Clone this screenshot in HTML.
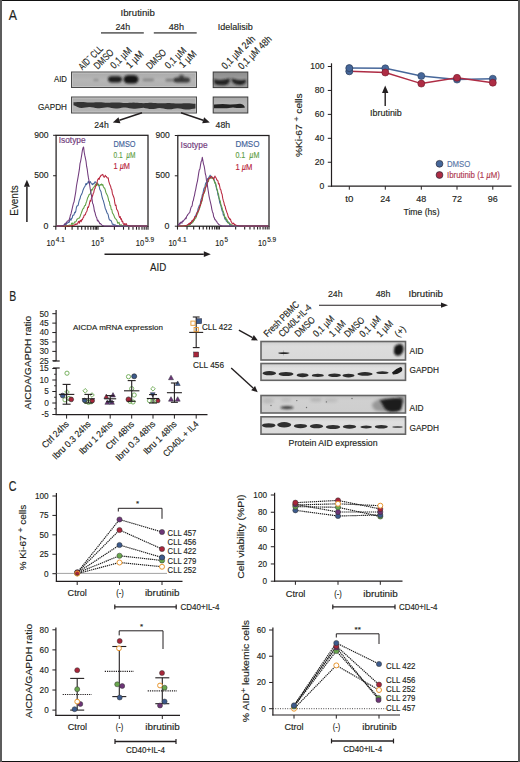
<!DOCTYPE html>
<html><head><meta charset="utf-8"><title>Figure</title>
<style>
html,body{margin:0;padding:0;background:#fff;}
body{width:520px;height:762px;overflow:hidden;}
svg{display:block;}
text{font-family:"Liberation Sans", sans-serif;}
</style></head>
<body>
<svg width="520" height="762" viewBox="0 0 520 762">
<defs>
<linearGradient id="gA" x1="0" y1="0" x2="0" y2="1"><stop offset="0" stop-color="#a9a9a9"/><stop offset="0.5" stop-color="#b6b6b6"/><stop offset="1" stop-color="#b0b0b0"/></linearGradient>
<linearGradient id="gI" x1="0" y1="0" x2="0" y2="1"><stop offset="0" stop-color="#8e8e8e"/><stop offset="0.5" stop-color="#9c9c9c"/><stop offset="1" stop-color="#979797"/></linearGradient>
<linearGradient id="gB1" x1="0" y1="0" x2="0" y2="1"><stop offset="0" stop-color="#cfcfcf"/><stop offset="0.25" stop-color="#dcdcdc"/><stop offset="1" stop-color="#d9d9d9"/></linearGradient>
<linearGradient id="gB2" x1="0" y1="0" x2="0" y2="1"><stop offset="0" stop-color="#d0d0d0"/><stop offset="0.3" stop-color="#e0e0e0"/><stop offset="1" stop-color="#dadada"/></linearGradient>
<linearGradient id="gB3" x1="0" y1="0" x2="0" y2="1"><stop offset="0" stop-color="#c4c4c4"/><stop offset="0.3" stop-color="#d0d0d0"/><stop offset="1" stop-color="#cecece"/></linearGradient>
<filter id="b5" x="-50%" y="-100%" width="200%" height="300%"><feGaussianBlur stdDeviation="0.5"/></filter>
<filter id="b6" x="-50%" y="-100%" width="200%" height="300%"><feGaussianBlur stdDeviation="0.6"/></filter>
<filter id="b8" x="-50%" y="-100%" width="200%" height="300%"><feGaussianBlur stdDeviation="0.8"/></filter>
<filter id="b10" x="-50%" y="-100%" width="200%" height="300%"><feGaussianBlur stdDeviation="1.0"/></filter>
<filter id="b12" x="-50%" y="-100%" width="200%" height="300%"><feGaussianBlur stdDeviation="1.2"/></filter>
<filter id="b15" x="-50%" y="-100%" width="200%" height="300%"><feGaussianBlur stdDeviation="1.5"/></filter>
<filter id="b20" x="-50%" y="-100%" width="200%" height="300%"><feGaussianBlur stdDeviation="2.0"/></filter>
</defs>
<rect x="0" y="0" width="520" height="762" fill="#ffffff"/>
<text x="8.80" y="19.70" font-size="14" fill="#231f20" textLength="8.20" lengthAdjust="spacingAndGlyphs" stroke="#231f20" stroke-width="0.15" >A</text>
<text x="120.60" y="15.70" font-size="9" fill="#231f20" textLength="34.20" lengthAdjust="spacingAndGlyphs" stroke="#231f20" stroke-width="0.15" >Ibrutinib</text>
<text x="115.40" y="30.10" font-size="9.4" fill="#231f20" textLength="14.80" lengthAdjust="spacingAndGlyphs" stroke="#231f20" stroke-width="0.15" >24h</text>
<text x="168.80" y="30.10" font-size="9.4" fill="#231f20" textLength="15.20" lengthAdjust="spacingAndGlyphs" stroke="#231f20" stroke-width="0.15" >48h</text>
<line x1="101.00" y1="32.90" x2="143.80" y2="32.90" stroke="#6e6e6e" stroke-width="1.6" />
<line x1="153.80" y1="32.90" x2="196.70" y2="32.90" stroke="#6e6e6e" stroke-width="1.6" />
<text x="217.80" y="29.90" font-size="9" fill="#231f20" textLength="35.00" lengthAdjust="spacingAndGlyphs" stroke="#231f20" stroke-width="0.15" >Idelalisib</text>
<text x="82.60" y="70.40" font-size="10" fill="#231f20" textLength="29.50" lengthAdjust="spacingAndGlyphs" transform="rotate(-45 82.60 70.40)" stroke="#231f20" stroke-width="0.15" >AID<tspan font-size="7" dy="-4">−</tspan><tspan dy="4"> CLL</tspan></text>
<text x="97.80" y="69.70" font-size="10" fill="#231f20" textLength="23.50" lengthAdjust="spacingAndGlyphs" transform="rotate(-45 97.80 69.70)" stroke="#231f20" stroke-width="0.15" >DMSO</text>
<text x="114.30" y="69.20" font-size="10" fill="#231f20" textLength="25.50" lengthAdjust="spacingAndGlyphs" transform="rotate(-45 114.30 69.20)" stroke="#231f20" stroke-width="0.15" >0,1 µM</text>
<text x="130.10" y="69.00" font-size="10" fill="#231f20" textLength="20.00" lengthAdjust="spacingAndGlyphs" transform="rotate(-45 130.10 69.00)" stroke="#231f20" stroke-width="0.15" >1 µM</text>
<text x="150.30" y="69.70" font-size="10" fill="#231f20" textLength="23.50" lengthAdjust="spacingAndGlyphs" transform="rotate(-45 150.30 69.70)" stroke="#231f20" stroke-width="0.15" >DMSO</text>
<text x="168.80" y="69.20" font-size="10" fill="#231f20" textLength="25.50" lengthAdjust="spacingAndGlyphs" transform="rotate(-45 168.80 69.20)" stroke="#231f20" stroke-width="0.15" >0,1 µM</text>
<text x="183.10" y="68.60" font-size="10" fill="#231f20" textLength="20.00" lengthAdjust="spacingAndGlyphs" transform="rotate(-45 183.10 68.60)" stroke="#231f20" stroke-width="0.15" >1 µM</text>
<text x="225.50" y="69.80" font-size="10" fill="#231f20" textLength="42.80" lengthAdjust="spacingAndGlyphs" transform="rotate(-45 225.50 69.80)" stroke="#231f20" stroke-width="0.15" >0,1 µM 24h</text>
<text x="242.10" y="70.00" font-size="10" fill="#231f20" textLength="42.80" lengthAdjust="spacingAndGlyphs" transform="rotate(-45 242.10 70.00)" stroke="#231f20" stroke-width="0.15" >0,1 µM 48h</text>
<text x="54.00" y="82.20" font-size="9.0" fill="#231f20" textLength="13.00" lengthAdjust="spacingAndGlyphs" stroke="#231f20" stroke-width="0.15" >AID</text>
<text x="38.00" y="109.70" font-size="9.1" fill="#231f20" textLength="29.00" lengthAdjust="spacingAndGlyphs" stroke="#231f20" stroke-width="0.15" >GAPDH</text>
<rect x="71.5" y="72" width="125" height="15.5" fill="url(#gA)" stroke="#4a4a4a" stroke-width="1"/>
<rect x="72.6" y="73.1" width="122.8" height="13.3" fill="none" stroke="#c6c6c6" stroke-width="0.8"/>
<rect x="108" y="76.2" width="14" height="6.200000000000003" rx="3.72" ry="3.10" fill="#151515" opacity="0.95" filter="url(#b8)"/>
<rect x="123.5" y="75.3" width="15.0" height="8.100000000000009" rx="4.86" ry="4.05" fill="#151515" opacity="1" filter="url(#b8)"/>
<ellipse cx="96" cy="80" rx="3" ry="1" fill="#1e1e1e" opacity="0.3" filter="url(#b10)"/>
<rect x="142.5" y="78.6" width="11.5" height="2.6000000000000085" rx="1.56" ry="1.30" fill="#333" opacity="0.35" filter="url(#b10)"/>
<rect x="165.5" y="78.8" width="11.0" height="2.799999999999997" rx="1.68" ry="1.40" fill="#333" opacity="0.45" filter="url(#b10)"/>
<rect x="174" y="77.4" width="16" height="5.0" rx="3.00" ry="2.50" fill="#1a1a1a" opacity="0.8" filter="url(#b10)"/>
<ellipse cx="181.5" cy="77" rx="2.5" ry="2.5" fill="#1e1e1e" opacity="0.6" filter="url(#b10)"/>
<rect x="71.5" y="97" width="125" height="16" fill="url(#gA)" stroke="#4a4a4a" stroke-width="1"/>
<rect x="72.6" y="98.1" width="122.8" height="13.8" fill="none" stroke="#c6c6c6" stroke-width="0.8"/>
<path d="M73.5,102.30 L75.5,102.21 L77.5,102.09 L79.5,102.00 L81.5,102.00 L83.5,102.10 L85.5,102.26 L87.5,102.42 L89.5,102.53 L91.5,102.49 L93.5,102.39 L95.5,102.28 L97.5,102.20 L99.5,102.23 L101.5,102.35 L103.5,102.51 L105.5,102.66 L107.5,102.74 L109.5,102.68 L111.5,102.57 L113.5,102.46 L115.5,102.41 L117.5,102.46 L119.5,102.60 L121.5,102.76 L123.5,102.90 L125.5,102.96 L127.5,102.90 L129.5,102.79 L131.5,102.68 L133.5,102.62 L135.5,102.67 L137.5,102.81 L139.5,102.98 L141.5,103.11 L143.5,103.16 L145.5,103.08 L147.5,102.97 L149.5,102.87 L151.5,102.84 L153.5,102.91 L155.5,103.07 L157.5,103.23 L159.5,103.35 L161.5,103.35 L163.5,103.27 L165.5,103.15 L167.5,103.06 L169.5,103.06 L171.5,103.16 L173.5,103.32 L175.5,103.47 L177.5,103.58 L179.5,103.57 L181.5,103.48 L183.5,103.37 L185.5,103.27 L187.5,103.27 L189.5,103.37 L191.5,103.53 L193.5,103.69 L195.5,103.80 L195.5,108.60 L193.5,108.79 L191.5,109.10 L189.5,109.43 L187.5,109.60 L185.5,109.50 L183.5,109.17 L181.5,108.77 L179.5,108.45 L177.5,108.33 L175.5,108.52 L173.5,108.83 L171.5,109.16 L169.5,109.33 L167.5,109.23 L165.5,108.90 L163.5,108.50 L161.5,108.18 L159.5,108.10 L157.5,108.33 L155.5,108.66 L153.5,108.96 L151.5,109.07 L149.5,108.90 L147.5,108.54 L145.5,108.15 L143.5,107.86 L141.5,107.88 L139.5,108.14 L137.5,108.48 L135.5,108.75 L133.5,108.79 L131.5,108.56 L129.5,108.17 L127.5,107.80 L125.5,107.55 L123.5,107.61 L121.5,107.87 L119.5,108.21 L117.5,108.48 L115.5,108.52 L113.5,108.29 L111.5,107.90 L109.5,107.53 L107.5,107.28 L105.5,107.40 L103.5,107.69 L101.5,108.03 L99.5,108.25 L97.5,108.22 L95.5,107.94 L93.5,107.54 L91.5,107.19 L89.5,107.01 L87.5,107.20 L85.5,107.51 L83.5,107.84 L81.5,108.01 L79.5,107.78 L77.5,106.95 L75.5,106.06 L73.5,105.24 Z" fill="#2a2a2a" opacity="0.92" filter="url(#b6)"/>
<rect x="213.2" y="72" width="34.6" height="15.6" fill="url(#gI)" stroke="#3a3a3a" stroke-width="1"/>
<path d="M213.8,79 Q221,81.2 229.6,78.2 Q230.5,83.5 226,85 Q219,85.8 214.5,84 Z" fill="#1a1a1a" opacity="0.95" filter="url(#b8)"/>
<path d="M231.5,78.2 Q239,81.2 246,79.6 Q246.5,84.2 241,85 Q234,85.2 231.8,81 Z" fill="#1a1a1a" opacity="0.95" filter="url(#b8)"/>
<rect x="213.2" y="97" width="34.6" height="16" fill="url(#gA)" stroke="#3a3a3a" stroke-width="1"/>
<path d="M214,104.6 Q222,103.4 230,104.4 Q236,104.2 240,103.7 Q245,104.6 244.8,107.8 Q238,108.2 233,107.4 Q226,108.6 214,108.2 Z" fill="#1e1e1e" opacity="0.95" filter="url(#b6)"/>
<line x1="142.00" y1="112.80" x2="119.45" y2="120.21" stroke="#231f20" stroke-width="1.5" />
<path d="M112.80,122.40 L118.48,117.27 L120.42,123.16 Z" fill="#231f20"/>
<line x1="181.00" y1="112.80" x2="203.16" y2="120.19" stroke="#231f20" stroke-width="1.5" />
<path d="M209.80,122.40 L202.18,123.13 L204.14,117.25 Z" fill="#231f20"/>
<text x="94.30" y="128.20" font-size="8.8" fill="#231f20" textLength="14.40" lengthAdjust="spacingAndGlyphs" stroke="#231f20" stroke-width="0.15" >24h</text>
<text x="215.60" y="128.20" font-size="8.8" fill="#231f20" textLength="14.50" lengthAdjust="spacingAndGlyphs" stroke="#231f20" stroke-width="0.15" >48h</text>
<rect x="56.1" y="135.3" width="91.9" height="91.0" fill="none" stroke="#231f20" stroke-width="1.25"/>
<line x1="53.10" y1="226.30" x2="56.10" y2="226.30" stroke="#231f20" stroke-width="1" />
<line x1="53.10" y1="175.74" x2="56.10" y2="175.74" stroke="#231f20" stroke-width="1" />
<line x1="53.10" y1="135.30" x2="56.10" y2="135.30" stroke="#231f20" stroke-width="1" />
<line x1="55.80" y1="226.30" x2="55.80" y2="229.70" stroke="#231f20" stroke-width="1.1" />
<line x1="65.40" y1="226.30" x2="65.40" y2="229.70" stroke="#231f20" stroke-width="1.1" />
<line x1="72.10" y1="226.30" x2="72.10" y2="229.70" stroke="#231f20" stroke-width="1.1" />
<line x1="77.90" y1="226.30" x2="77.90" y2="229.70" stroke="#231f20" stroke-width="1.1" />
<line x1="81.70" y1="226.30" x2="81.70" y2="229.70" stroke="#231f20" stroke-width="1.1" />
<line x1="85.20" y1="226.30" x2="85.20" y2="229.70" stroke="#231f20" stroke-width="1.1" />
<line x1="88.00" y1="226.30" x2="88.00" y2="229.70" stroke="#231f20" stroke-width="1.1" />
<line x1="90.80" y1="226.30" x2="90.80" y2="229.70" stroke="#231f20" stroke-width="1.1" />
<line x1="93.30" y1="226.30" x2="93.30" y2="229.70" stroke="#231f20" stroke-width="1.1" />
<line x1="95.20" y1="226.30" x2="95.20" y2="229.70" stroke="#231f20" stroke-width="1.1" />
<line x1="96.60" y1="226.30" x2="96.60" y2="229.70" stroke="#231f20" stroke-width="1.1" />
<line x1="98.00" y1="226.30" x2="98.00" y2="229.70" stroke="#231f20" stroke-width="1.1" />
<line x1="114.40" y1="226.30" x2="114.40" y2="229.70" stroke="#231f20" stroke-width="1.1" />
<line x1="123.50" y1="226.30" x2="123.50" y2="229.70" stroke="#231f20" stroke-width="1.1" />
<line x1="128.80" y1="226.30" x2="128.80" y2="229.70" stroke="#231f20" stroke-width="1.1" />
<line x1="133.00" y1="226.30" x2="133.00" y2="229.70" stroke="#231f20" stroke-width="1.1" />
<line x1="136.50" y1="226.30" x2="136.50" y2="229.70" stroke="#231f20" stroke-width="1.1" />
<line x1="139.00" y1="226.30" x2="139.00" y2="229.70" stroke="#231f20" stroke-width="1.1" />
<line x1="142.00" y1="226.30" x2="142.00" y2="229.70" stroke="#231f20" stroke-width="1.1" />
<line x1="144.20" y1="226.30" x2="144.20" y2="229.70" stroke="#231f20" stroke-width="1.1" />
<line x1="146.20" y1="226.30" x2="146.20" y2="229.70" stroke="#231f20" stroke-width="1.1" />
<line x1="148.00" y1="226.30" x2="148.00" y2="229.70" stroke="#231f20" stroke-width="1.1" />
<path d="M56.60,226.00 L57.20,226.00 L57.80,226.00 L58.40,226.00 L59.00,226.00 L59.60,225.95 L60.20,225.88 L60.80,225.79 L61.40,225.69 L62.00,225.56 L62.60,225.42 L63.20,225.26 L63.80,225.06 L64.40,224.84 L65.00,223.64 L65.60,225.20 L66.20,224.65 L66.80,222.95 L67.40,223.14 L68.00,222.54 L68.60,222.53 L69.20,222.29 L69.80,219.82 L70.40,218.92 L71.00,220.22 L71.60,218.30 L72.20,218.21 L72.80,215.21 L73.40,215.25 L74.00,214.79 L74.60,212.25 L75.20,212.78 L75.80,211.27 L76.40,207.54 L77.00,206.00 L77.60,205.77 L78.20,205.18 L78.80,202.08 L79.40,199.98 L80.00,198.83 L80.60,196.12 L81.20,194.95 L81.80,193.88 L82.40,192.44 L83.00,190.22 L83.60,188.76 L84.20,187.36 L84.80,186.72 L85.40,185.13 L86.00,183.42 L86.60,184.66 L87.20,183.21 L87.80,182.86 L88.40,181.27 L89.00,183.14 L89.60,182.83 L90.20,181.45 L90.80,182.49 L91.40,183.87 L92.00,184.07 L92.60,184.71 L93.20,183.26 L93.80,184.04 L94.40,183.21 L95.00,181.75 L95.60,182.03 L96.20,182.99 L96.80,183.38 L97.40,183.26 L98.00,184.50 L98.60,184.33 L99.20,186.36 L99.80,189.49 L100.40,190.34 L101.00,191.69 L101.60,194.75 L102.20,197.29 L102.80,199.40 L103.40,200.80 L104.00,203.13 L104.60,205.43 L105.20,208.18 L105.80,209.46 L106.40,210.98 L107.00,212.97 L107.60,213.39 L108.20,214.91 L108.80,217.98 L109.40,219.93 L110.00,220.02 L110.60,220.47 L111.20,220.76 L111.80,222.37 L112.40,224.27 L113.00,224.29 L113.60,224.17 L114.20,225.41 L114.80,224.82 L115.40,225.10 L116.00,225.34 L116.60,225.54 L117.20,225.70 L117.80,225.83 L118.40,225.93 L119.00,226.00 L119.60,226.00 L120.20,226.00 L120.80,226.00 L121.40,226.00 L122.00,226.00 L122.60,226.00 L123.20,226.00 L123.80,226.00 L124.40,226.00 L125.00,226.00 L125.60,226.00 L126.20,226.00 L126.80,226.00 L127.40,226.00 L128.00,226.00 L128.60,226.00 L129.20,226.00 L129.80,226.00 L130.40,226.00 L131.00,226.00 L131.60,226.00 L132.20,226.00 L132.80,226.00 L133.40,226.00 L134.00,226.00 L134.60,226.00 L135.20,226.00 L135.80,226.00 L136.40,226.00 L137.00,226.00 L137.60,226.00 L138.20,226.00 L138.80,226.00 L139.40,226.00 L140.00,226.00 L140.60,226.00 L141.20,226.00 L141.80,226.00 L142.40,226.00 L143.00,226.00 L143.60,226.00 L144.20,226.00 L144.80,226.00 L145.40,226.00 L146.00,226.00 L146.60,226.00 L147.20,226.00" stroke="#44639a" stroke-width="1.05" fill="none" stroke-linejoin="round"/>
<path d="M56.60,226.00 L57.20,226.00 L57.80,226.00 L58.40,226.00 L59.00,226.00 L59.60,226.00 L60.20,226.00 L60.80,226.00 L61.40,226.00 L62.00,226.00 L62.60,226.00 L63.20,226.00 L63.80,226.00 L64.40,226.00 L65.00,225.95 L65.60,225.88 L66.20,225.80 L66.80,225.71 L67.40,225.60 L68.00,225.48 L68.60,225.34 L69.20,225.18 L69.80,224.99 L70.40,225.97 L71.00,225.71 L71.60,223.12 L72.20,222.89 L72.80,224.50 L73.40,223.86 L74.00,223.27 L74.60,221.86 L75.20,222.12 L75.80,221.56 L76.40,220.87 L77.00,219.09 L77.60,219.07 L78.20,218.18 L78.80,218.18 L79.40,217.97 L80.00,216.87 L80.60,214.78 L81.20,213.42 L81.80,211.80 L82.40,209.98 L83.00,208.69 L83.60,208.51 L84.20,206.77 L84.80,205.54 L85.40,205.44 L86.00,203.04 L86.60,201.66 L87.20,199.35 L87.80,197.32 L88.40,196.65 L89.00,194.73 L89.60,194.30 L90.20,194.22 L90.80,192.08 L91.40,189.57 L92.00,190.27 L92.60,188.96 L93.20,187.83 L93.80,187.42 L94.40,186.30 L95.00,185.74 L95.60,184.11 L96.20,185.38 L96.80,185.10 L97.40,182.92 L98.00,185.20 L98.60,185.78 L99.20,185.40 L99.80,185.38 L100.40,184.65 L101.00,184.90 L101.60,183.93 L102.20,185.16 L102.80,184.54 L103.40,186.76 L104.00,187.87 L104.60,187.99 L105.20,189.71 L105.80,192.22 L106.40,193.44 L107.00,194.65 L107.60,195.87 L108.20,198.09 L108.80,201.04 L109.40,201.63 L110.00,205.52 L110.60,205.77 L111.20,209.30 L111.80,209.51 L112.40,212.88 L113.00,213.82 L113.60,214.78 L114.20,216.20 L114.80,217.81 L115.40,218.80 L116.00,219.12 L116.60,219.79 L117.20,221.41 L117.80,223.25 L118.40,223.09 L119.00,222.23 L119.60,224.66 L120.20,224.83 L120.80,225.67 L121.40,224.91 L122.00,225.17 L122.60,225.38 L123.20,225.56 L123.80,225.71 L124.40,225.83 L125.00,225.93 L125.60,226.00 L126.20,226.00 L126.80,226.00 L127.40,226.00 L128.00,226.00 L128.60,226.00 L129.20,226.00 L129.80,226.00 L130.40,226.00 L131.00,226.00 L131.60,226.00 L132.20,226.00 L132.80,226.00 L133.40,226.00 L134.00,226.00 L134.60,226.00 L135.20,226.00 L135.80,226.00 L136.40,226.00 L137.00,226.00 L137.60,226.00 L138.20,226.00 L138.80,226.00 L139.40,226.00 L140.00,226.00 L140.60,226.00 L141.20,226.00 L141.80,226.00 L142.40,226.00 L143.00,226.00 L143.60,226.00 L144.20,226.00 L144.80,226.00 L145.40,226.00 L146.00,226.00 L146.60,226.00 L147.20,226.00" stroke="#5fa044" stroke-width="1.05" fill="none" stroke-linejoin="round"/>
<path d="M56.60,226.00 L57.20,226.00 L57.80,226.00 L58.40,226.00 L59.00,226.00 L59.60,226.00 L60.20,226.00 L60.80,226.00 L61.40,226.00 L62.00,226.00 L62.60,226.00 L63.20,226.00 L63.80,226.00 L64.40,226.00 L65.00,226.00 L65.60,226.00 L66.20,226.00 L66.80,226.00 L67.40,226.00 L68.00,226.00 L68.60,226.00 L69.20,226.00 L69.80,225.95 L70.40,225.88 L71.00,225.80 L71.60,225.71 L72.20,225.60 L72.80,225.48 L73.40,225.33 L74.00,225.16 L74.60,224.97 L75.20,224.02 L75.80,224.63 L76.40,223.86 L77.00,224.19 L77.60,223.89 L78.20,221.92 L78.80,221.32 L79.40,223.13 L80.00,220.95 L80.60,220.27 L81.20,221.72 L81.80,219.51 L82.40,219.73 L83.00,217.84 L83.60,217.35 L84.20,214.95 L84.80,215.21 L85.40,214.69 L86.00,212.48 L86.60,211.77 L87.20,210.18 L87.80,207.02 L88.40,207.44 L89.00,205.38 L89.60,202.93 L90.20,200.49 L90.80,201.10 L91.40,198.25 L92.00,197.16 L92.60,195.83 L93.20,193.58 L93.80,192.40 L94.40,189.18 L95.00,188.62 L95.60,185.97 L96.20,185.76 L96.80,184.10 L97.40,180.50 L98.00,179.30 L98.60,178.34 L99.20,179.37 L99.80,176.96 L100.40,176.71 L101.00,175.17 L101.60,175.28 L102.20,174.63 L102.80,174.39 L103.40,176.25 L104.00,177.10 L104.60,177.14 L105.20,175.33 L105.80,176.26 L106.40,176.58 L107.00,177.76 L107.60,177.93 L108.20,177.82 L108.80,181.30 L109.40,183.33 L110.00,185.07 L110.60,186.18 L111.20,188.76 L111.80,189.61 L112.40,193.65 L113.00,195.27 L113.60,196.80 L114.20,198.49 L114.80,202.97 L115.40,205.55 L116.00,205.14 L116.60,209.14 L117.20,209.95 L117.80,211.00 L118.40,213.06 L119.00,215.91 L119.60,217.60 L120.20,216.55 L120.80,219.30 L121.40,218.73 L122.00,221.53 L122.60,221.25 L123.20,223.49 L123.80,224.39 L124.40,223.59 L125.00,225.43 L125.60,223.90 L126.20,223.58 L126.80,225.04 L127.40,225.28 L128.00,225.47 L128.60,225.64 L129.20,225.77 L129.80,225.88 L130.40,225.97 L131.00,226.00 L131.60,226.00 L132.20,226.00 L132.80,226.00 L133.40,226.00 L134.00,226.00 L134.60,226.00 L135.20,226.00 L135.80,226.00 L136.40,226.00 L137.00,226.00 L137.60,226.00 L138.20,226.00 L138.80,226.00 L139.40,226.00 L140.00,226.00 L140.60,226.00 L141.20,226.00 L141.80,226.00 L142.40,226.00 L143.00,226.00 L143.60,226.00 L144.20,226.00 L144.80,226.00 L145.40,226.00 L146.00,226.00 L146.60,226.00 L147.20,226.00" stroke="#b8263e" stroke-width="1.05" fill="none" stroke-linejoin="round"/>
<path d="M56.60,226.00 L57.20,226.00 L57.80,226.00 L58.40,226.00 L59.00,226.00 L59.60,226.00 L60.20,226.00 L60.80,226.00 L61.40,225.90 L62.00,225.78 L62.60,225.63 L63.20,225.44 L63.80,225.20 L64.40,224.90 L65.00,223.90 L65.60,223.14 L66.20,223.29 L66.80,222.06 L67.40,221.06 L68.00,220.94 L68.60,221.10 L69.20,219.55 L69.80,218.01 L70.40,215.05 L71.00,213.93 L71.60,211.21 L72.20,208.62 L72.80,205.90 L73.40,203.37 L74.00,202.07 L74.60,198.62 L75.20,195.18 L75.80,191.62 L76.40,186.49 L77.00,183.01 L77.60,179.96 L78.20,176.38 L78.80,172.87 L79.40,169.19 L80.00,163.62 L80.60,161.32 L81.20,158.03 L81.80,154.31 L82.40,150.29 L83.00,147.82 L83.60,146.95 L84.20,152.25 L84.80,155.42 L85.40,158.10 L86.00,161.06 L86.60,166.20 L87.20,169.18 L87.80,173.80 L88.40,177.64 L89.00,180.77 L89.60,184.46 L90.20,188.75 L90.80,192.09 L91.40,195.04 L92.00,198.80 L92.60,203.23 L93.20,204.38 L93.80,207.14 L94.40,211.05 L95.00,212.48 L95.60,215.12 L96.20,216.75 L96.80,218.01 L97.40,220.94 L98.00,220.18 L98.60,221.70 L99.20,222.03 L99.80,223.76 L100.40,223.48 L101.00,224.15 L101.60,224.88 L102.20,225.19 L102.80,225.44 L103.40,225.64 L104.00,225.79 L104.60,225.91 L105.20,226.00 L105.80,226.00 L106.40,226.00 L107.00,226.00 L107.60,226.00 L108.20,226.00 L108.80,226.00 L109.40,226.00 L110.00,226.00 L110.60,226.00 L111.20,226.00 L111.80,226.00 L112.40,226.00 L113.00,226.00 L113.60,226.00 L114.20,226.00 L114.80,226.00 L115.40,226.00 L116.00,226.00 L116.60,226.00 L117.20,226.00 L117.80,226.00 L118.40,226.00 L119.00,226.00 L119.60,226.00 L120.20,226.00 L120.80,226.00 L121.40,226.00 L122.00,226.00 L122.60,226.00 L123.20,226.00 L123.80,226.00 L124.40,226.00 L125.00,226.00 L125.60,226.00 L126.20,226.00 L126.80,226.00 L127.40,226.00 L128.00,226.00 L128.60,226.00 L129.20,226.00 L129.80,226.00 L130.40,226.00 L131.00,226.00 L131.60,226.00 L132.20,226.00 L132.80,226.00 L133.40,226.00 L134.00,226.00 L134.60,226.00 L135.20,226.00 L135.80,226.00 L136.40,226.00 L137.00,226.00 L137.60,226.00 L138.20,226.00 L138.80,226.00 L139.40,226.00 L140.00,226.00 L140.60,226.00 L141.20,226.00 L141.80,226.00 L142.40,226.00 L143.00,226.00 L143.60,226.00 L144.20,226.00 L144.80,226.00 L145.40,226.00 L146.00,226.00 L146.60,226.00 L147.20,226.00" stroke="#713a7c" stroke-width="1.05" fill="none" stroke-linejoin="round"/>
<text x="48.60" y="137.80" font-size="8.8" fill="#231f20" text-anchor="end" textLength="14.30" lengthAdjust="spacingAndGlyphs" stroke="#231f20" stroke-width="0.15" >900</text>
<text x="48.60" y="178.40" font-size="8.8" fill="#231f20" text-anchor="end" textLength="14.30" lengthAdjust="spacingAndGlyphs" stroke="#231f20" stroke-width="0.15" >500</text>
<text x="48.30" y="229.30" font-size="8.8" fill="#231f20" text-anchor="end" stroke="#231f20" stroke-width="0.15" >0</text>
<text x="58.70" y="142.50" font-size="8.2" fill="#713a7c" textLength="27.00" lengthAdjust="spacingAndGlyphs" stroke="#713a7c" stroke-width="0.15" >Isotype</text>
<text x="113.50" y="147.30" font-size="8.2" fill="#44639a" textLength="22.00" lengthAdjust="spacingAndGlyphs" stroke="#44639a" stroke-width="0.15" >DMSO</text>
<text x="113.50" y="158.30" font-size="8.2" fill="#5fa044" textLength="22.00" lengthAdjust="spacingAndGlyphs" stroke="#5fa044" stroke-width="0.15" >0.1&#160;&#160;<tspan font-style="italic">µ</tspan>M</text>
<text x="113.50" y="169.40" font-size="8.2" fill="#b8263e" textLength="16.50" lengthAdjust="spacingAndGlyphs" stroke="#b8263e" stroke-width="0.15" >1 <tspan font-style="italic">µ</tspan>M</text>
<text x="46.60" y="245.50" font-size="9.2" fill="#231f20" textLength="8.40" lengthAdjust="spacingAndGlyphs" stroke="#231f20" stroke-width="0.15" >10</text>
<text x="55.80" y="241.60" font-size="6.4" fill="#231f20" textLength="9.00" lengthAdjust="spacingAndGlyphs" stroke="#231f20" stroke-width="0.15" >4.1</text>
<text x="91.20" y="245.50" font-size="9.2" fill="#231f20" textLength="8.40" lengthAdjust="spacingAndGlyphs" stroke="#231f20" stroke-width="0.15" >10</text>
<text x="100.40" y="241.60" font-size="6.4" fill="#231f20" textLength="3.50" lengthAdjust="spacingAndGlyphs" stroke="#231f20" stroke-width="0.15" >5</text>
<text x="135.80" y="245.50" font-size="9.2" fill="#231f20" textLength="8.40" lengthAdjust="spacingAndGlyphs" stroke="#231f20" stroke-width="0.15" >10</text>
<text x="145.00" y="241.60" font-size="6.4" fill="#231f20" textLength="9.00" lengthAdjust="spacingAndGlyphs" stroke="#231f20" stroke-width="0.15" >5.9</text>
<rect x="177.8" y="135.5" width="91.19999999999999" height="90.69999999999999" fill="none" stroke="#231f20" stroke-width="1.25"/>
<line x1="174.80" y1="226.20" x2="177.80" y2="226.20" stroke="#231f20" stroke-width="1" />
<line x1="174.80" y1="175.81" x2="177.80" y2="175.81" stroke="#231f20" stroke-width="1" />
<line x1="174.80" y1="135.50" x2="177.80" y2="135.50" stroke="#231f20" stroke-width="1" />
<line x1="177.50" y1="226.20" x2="177.50" y2="229.60" stroke="#231f20" stroke-width="1.1" />
<line x1="187.03" y1="226.20" x2="187.03" y2="229.60" stroke="#231f20" stroke-width="1.1" />
<line x1="193.68" y1="226.20" x2="193.68" y2="229.60" stroke="#231f20" stroke-width="1.1" />
<line x1="199.43" y1="226.20" x2="199.43" y2="229.60" stroke="#231f20" stroke-width="1.1" />
<line x1="203.21" y1="226.20" x2="203.21" y2="229.60" stroke="#231f20" stroke-width="1.1" />
<line x1="206.68" y1="226.20" x2="206.68" y2="229.60" stroke="#231f20" stroke-width="1.1" />
<line x1="209.46" y1="226.20" x2="209.46" y2="229.60" stroke="#231f20" stroke-width="1.1" />
<line x1="212.24" y1="226.20" x2="212.24" y2="229.60" stroke="#231f20" stroke-width="1.1" />
<line x1="214.72" y1="226.20" x2="214.72" y2="229.60" stroke="#231f20" stroke-width="1.1" />
<line x1="216.60" y1="226.20" x2="216.60" y2="229.60" stroke="#231f20" stroke-width="1.1" />
<line x1="217.99" y1="226.20" x2="217.99" y2="229.60" stroke="#231f20" stroke-width="1.1" />
<line x1="219.38" y1="226.20" x2="219.38" y2="229.60" stroke="#231f20" stroke-width="1.1" />
<line x1="235.66" y1="226.20" x2="235.66" y2="229.60" stroke="#231f20" stroke-width="1.1" />
<line x1="244.69" y1="226.20" x2="244.69" y2="229.60" stroke="#231f20" stroke-width="1.1" />
<line x1="249.95" y1="226.20" x2="249.95" y2="229.60" stroke="#231f20" stroke-width="1.1" />
<line x1="254.11" y1="226.20" x2="254.11" y2="229.60" stroke="#231f20" stroke-width="1.1" />
<line x1="257.59" y1="226.20" x2="257.59" y2="229.60" stroke="#231f20" stroke-width="1.1" />
<line x1="260.07" y1="226.20" x2="260.07" y2="229.60" stroke="#231f20" stroke-width="1.1" />
<line x1="263.05" y1="226.20" x2="263.05" y2="229.60" stroke="#231f20" stroke-width="1.1" />
<line x1="265.23" y1="226.20" x2="265.23" y2="229.60" stroke="#231f20" stroke-width="1.1" />
<line x1="267.21" y1="226.20" x2="267.21" y2="229.60" stroke="#231f20" stroke-width="1.1" />
<line x1="269.00" y1="226.20" x2="269.00" y2="229.60" stroke="#231f20" stroke-width="1.1" />
<text x="169.80" y="137.80" font-size="8.8" fill="#231f20" text-anchor="end" textLength="14.30" lengthAdjust="spacingAndGlyphs" stroke="#231f20" stroke-width="0.15" >900</text>
<text x="169.80" y="178.40" font-size="8.8" fill="#231f20" text-anchor="end" textLength="14.30" lengthAdjust="spacingAndGlyphs" stroke="#231f20" stroke-width="0.15" >500</text>
<text x="169.50" y="229.30" font-size="8.8" fill="#231f20" text-anchor="end" stroke="#231f20" stroke-width="0.15" >0</text>
<path d="M178.30,225.90 L178.90,225.90 L179.50,225.90 L180.10,225.90 L180.70,225.90 L181.30,225.90 L181.90,225.90 L182.50,225.90 L183.10,225.90 L183.70,225.89 L184.30,225.81 L184.90,225.71 L185.50,225.60 L186.10,225.46 L186.70,225.29 L187.30,225.09 L187.90,224.86 L188.50,224.88 L189.10,224.84 L189.70,224.59 L190.30,224.51 L190.90,223.52 L191.50,223.38 L192.10,220.58 L192.70,220.89 L193.30,221.20 L193.90,219.56 L194.50,219.13 L195.10,216.10 L195.70,215.70 L196.30,213.81 L196.90,213.04 L197.50,211.53 L198.10,208.49 L198.70,207.19 L199.30,205.45 L199.90,205.01 L200.50,202.60 L201.10,199.05 L201.70,198.44 L202.30,194.70 L202.90,193.69 L203.50,190.38 L204.10,187.99 L204.70,188.06 L205.30,184.54 L205.90,182.75 L206.50,182.92 L207.10,181.16 L207.70,178.44 L208.30,178.95 L208.90,177.04 L209.50,176.71 L210.10,175.16 L210.70,176.76 L211.30,176.27 L211.90,177.37 L212.50,177.96 L213.10,177.60 L213.70,179.10 L214.30,180.24 L214.90,182.04 L215.50,183.88 L216.10,186.65 L216.70,189.70 L217.30,190.67 L217.90,194.76 L218.50,196.42 L219.10,198.82 L219.70,202.46 L220.30,204.00 L220.90,205.86 L221.50,208.40 L222.10,210.95 L222.70,211.28 L223.30,215.21 L223.90,214.52 L224.50,217.70 L225.10,219.22 L225.70,218.39 L226.30,221.26 L226.90,221.14 L227.50,222.43 L228.10,221.74 L228.70,222.40 L229.30,223.22 L229.90,225.49 L230.50,224.74 L231.10,225.03 L231.70,225.26 L232.30,225.46 L232.90,225.62 L233.50,225.74 L234.10,225.84 L234.70,225.90 L235.30,225.90 L235.90,225.90 L236.50,225.90 L237.10,225.90 L237.70,225.90 L238.30,225.90 L238.90,225.90 L239.50,225.90 L240.10,225.90 L240.70,225.90 L241.30,225.90 L241.90,225.90 L242.50,225.90 L243.10,225.90 L243.70,225.90 L244.30,225.90 L244.90,225.90 L245.50,225.90 L246.10,225.90 L246.70,225.90 L247.30,225.90 L247.90,225.90 L248.50,225.90 L249.10,225.90 L249.70,225.90 L250.30,225.90 L250.90,225.90 L251.50,225.90 L252.10,225.90 L252.70,225.90 L253.30,225.90 L253.90,225.90 L254.50,225.90 L255.10,225.90 L255.70,225.90 L256.30,225.90 L256.90,225.90 L257.50,225.90 L258.10,225.90 L258.70,225.90 L259.30,225.90 L259.90,225.90 L260.50,225.90 L261.10,225.90 L261.70,225.90 L262.30,225.90 L262.90,225.90 L263.50,225.90 L264.10,225.90 L264.70,225.90 L265.30,225.90 L265.90,225.90 L266.50,225.90 L267.10,225.90 L267.70,225.90 L268.30,225.90" stroke="#44639a" stroke-width="1.05" fill="none" stroke-linejoin="round"/>
<path d="M178.30,225.90 L178.90,225.90 L179.50,225.90 L180.10,225.90 L180.70,225.90 L181.30,225.90 L181.90,225.90 L182.50,225.90 L183.10,225.90 L183.70,225.90 L184.30,225.90 L184.90,225.83 L185.50,225.74 L186.10,225.64 L186.70,225.51 L187.30,225.35 L187.90,225.16 L188.50,224.94 L189.10,225.38 L189.70,225.15 L190.30,223.98 L190.90,223.03 L191.50,221.93 L192.10,222.97 L192.70,221.88 L193.30,221.87 L193.90,220.15 L194.50,220.22 L195.10,218.04 L195.70,218.22 L196.30,216.85 L196.90,214.79 L197.50,213.67 L198.10,212.49 L198.70,209.70 L199.30,208.84 L199.90,207.62 L200.50,204.43 L201.10,203.75 L201.70,201.44 L202.30,199.75 L202.90,196.44 L203.50,193.76 L204.10,193.38 L204.70,191.35 L205.30,188.51 L205.90,185.78 L206.50,184.26 L207.10,183.67 L207.70,181.36 L208.30,181.64 L208.90,179.65 L209.50,177.82 L210.10,178.23 L210.70,177.08 L211.30,178.25 L211.90,178.25 L212.50,177.68 L213.10,178.68 L213.70,179.79 L214.30,181.32 L214.90,183.25 L215.50,182.73 L216.10,185.48 L216.70,188.16 L217.30,189.69 L217.90,192.70 L218.50,193.89 L219.10,198.20 L219.70,199.74 L220.30,201.12 L220.90,204.72 L221.50,206.09 L222.10,207.91 L222.70,210.57 L223.30,211.59 L223.90,213.47 L224.50,216.61 L225.10,217.62 L225.70,217.26 L226.30,220.24 L226.90,219.42 L227.50,221.07 L228.10,223.21 L228.70,223.20 L229.30,223.02 L229.90,223.68 L230.50,224.12 L231.10,224.73 L231.70,225.02 L232.30,225.26 L232.90,225.45 L233.50,225.61 L234.10,225.74 L234.70,225.84 L235.30,225.90 L235.90,225.90 L236.50,225.90 L237.10,225.90 L237.70,225.90 L238.30,225.90 L238.90,225.90 L239.50,225.90 L240.10,225.90 L240.70,225.90 L241.30,225.90 L241.90,225.90 L242.50,225.90 L243.10,225.90 L243.70,225.90 L244.30,225.90 L244.90,225.90 L245.50,225.90 L246.10,225.90 L246.70,225.90 L247.30,225.90 L247.90,225.90 L248.50,225.90 L249.10,225.90 L249.70,225.90 L250.30,225.90 L250.90,225.90 L251.50,225.90 L252.10,225.90 L252.70,225.90 L253.30,225.90 L253.90,225.90 L254.50,225.90 L255.10,225.90 L255.70,225.90 L256.30,225.90 L256.90,225.90 L257.50,225.90 L258.10,225.90 L258.70,225.90 L259.30,225.90 L259.90,225.90 L260.50,225.90 L261.10,225.90 L261.70,225.90 L262.30,225.90 L262.90,225.90 L263.50,225.90 L264.10,225.90 L264.70,225.90 L265.30,225.90 L265.90,225.90 L266.50,225.90 L267.10,225.90 L267.70,225.90 L268.30,225.90" stroke="#5fa044" stroke-width="1.05" fill="none" stroke-linejoin="round"/>
<path d="M178.30,225.90 L178.90,225.90 L179.50,225.90 L180.10,225.90 L180.70,225.90 L181.30,225.90 L181.90,225.90 L182.50,225.90 L183.10,225.90 L183.70,225.85 L184.30,225.77 L184.90,225.67 L185.50,225.55 L186.10,225.41 L186.70,225.25 L187.30,225.05 L187.90,224.83 L188.50,224.10 L189.10,223.35 L189.70,224.29 L190.30,222.38 L190.90,223.12 L191.50,222.15 L192.10,220.76 L192.70,221.25 L193.30,219.28 L193.90,219.48 L194.50,217.61 L195.10,216.65 L195.70,216.40 L196.30,216.24 L196.90,213.11 L197.50,211.96 L198.10,211.51 L198.70,210.75 L199.30,208.11 L199.90,205.88 L200.50,205.56 L201.10,201.25 L201.70,201.42 L202.30,197.96 L202.90,195.59 L203.50,193.52 L204.10,192.03 L204.70,191.40 L205.30,187.85 L205.90,187.07 L206.50,185.49 L207.10,183.19 L207.70,182.16 L208.30,179.57 L208.90,178.41 L209.50,177.81 L210.10,178.26 L210.70,177.03 L211.30,176.37 L211.90,176.93 L212.50,177.74 L213.10,178.12 L213.70,179.14 L214.30,177.71 L214.90,176.10 L215.50,177.30 L216.10,177.80 L216.70,179.61 L217.30,180.39 L217.90,180.63 L218.50,184.05 L219.10,183.61 L219.70,186.35 L220.30,189.32 L220.90,189.94 L221.50,193.08 L222.10,194.21 L222.70,198.15 L223.30,200.69 L223.90,202.44 L224.50,205.41 L225.10,206.06 L225.70,209.05 L226.30,210.68 L226.90,212.42 L227.50,213.74 L228.10,216.26 L228.70,217.92 L229.30,217.95 L229.90,219.58 L230.50,219.02 L231.10,221.58 L231.70,222.23 L232.30,223.82 L232.90,223.97 L233.50,223.09 L234.10,223.80 L234.70,224.91 L235.30,224.79 L235.90,225.05 L236.50,225.27 L237.10,225.46 L237.70,225.61 L238.30,225.73 L238.90,225.83 L239.50,225.90 L240.10,225.90 L240.70,225.90 L241.30,225.90 L241.90,225.90 L242.50,225.90 L243.10,225.90 L243.70,225.90 L244.30,225.90 L244.90,225.90 L245.50,225.90 L246.10,225.90 L246.70,225.90 L247.30,225.90 L247.90,225.90 L248.50,225.90 L249.10,225.90 L249.70,225.90 L250.30,225.90 L250.90,225.90 L251.50,225.90 L252.10,225.90 L252.70,225.90 L253.30,225.90 L253.90,225.90 L254.50,225.90 L255.10,225.90 L255.70,225.90 L256.30,225.90 L256.90,225.90 L257.50,225.90 L258.10,225.90 L258.70,225.90 L259.30,225.90 L259.90,225.90 L260.50,225.90 L261.10,225.90 L261.70,225.90 L262.30,225.90 L262.90,225.90 L263.50,225.90 L264.10,225.90 L264.70,225.90 L265.30,225.90 L265.90,225.90 L266.50,225.90 L267.10,225.90 L267.70,225.90 L268.30,225.90" stroke="#b8263e" stroke-width="1.05" fill="none" stroke-linejoin="round"/>
<path d="M178.30,224.04 L178.90,225.34 L179.50,223.14 L180.10,224.01 L180.70,222.21 L181.30,222.10 L181.90,223.25 L182.50,220.98 L183.10,221.38 L183.70,220.40 L184.30,219.78 L184.90,219.24 L185.50,217.91 L186.10,218.60 L186.70,216.21 L187.30,215.69 L187.90,214.30 L188.50,213.81 L189.10,212.96 L189.70,212.75 L190.30,210.13 L190.90,207.91 L191.50,206.40 L192.10,205.99 L192.70,201.74 L193.30,200.57 L193.90,197.46 L194.50,195.36 L195.10,191.79 L195.70,189.60 L196.30,186.13 L196.90,183.38 L197.50,180.84 L198.10,177.06 L198.70,173.06 L199.30,169.93 L199.90,168.98 L200.50,165.18 L201.10,161.81 L201.70,160.80 L202.30,157.35 L202.90,160.69 L203.50,164.06 L204.10,165.88 L204.70,169.27 L205.30,173.78 L205.90,175.61 L206.50,180.54 L207.10,182.68 L207.70,187.61 L208.30,191.22 L208.90,195.29 L209.50,198.46 L210.10,200.96 L210.70,203.36 L211.30,206.12 L211.90,209.59 L212.50,211.96 L213.10,213.16 L213.70,216.91 L214.30,217.74 L214.90,219.64 L215.50,219.84 L216.10,220.98 L216.70,221.37 L217.30,222.86 L217.90,223.32 L218.50,224.17 L219.10,224.75 L219.70,225.08 L220.30,225.34 L220.90,225.55 L221.50,225.71 L222.10,225.83 L222.70,225.90 L223.30,225.90 L223.90,225.90 L224.50,225.90 L225.10,225.90 L225.70,225.90 L226.30,225.90 L226.90,225.90 L227.50,225.90 L228.10,225.90 L228.70,225.90 L229.30,225.90 L229.90,225.90 L230.50,225.90 L231.10,225.90 L231.70,225.90 L232.30,225.90 L232.90,225.90 L233.50,225.90 L234.10,225.90 L234.70,225.90 L235.30,225.90 L235.90,225.90 L236.50,225.90 L237.10,225.90 L237.70,225.90 L238.30,225.90 L238.90,225.90 L239.50,225.90 L240.10,225.90 L240.70,225.90 L241.30,225.90 L241.90,225.90 L242.50,225.90 L243.10,225.90 L243.70,225.90 L244.30,225.90 L244.90,225.90 L245.50,225.90 L246.10,225.90 L246.70,225.90 L247.30,225.90 L247.90,225.90 L248.50,225.90 L249.10,225.90 L249.70,225.90 L250.30,225.90 L250.90,225.90 L251.50,225.90 L252.10,225.90 L252.70,225.90 L253.30,225.90 L253.90,225.90 L254.50,225.90 L255.10,225.90 L255.70,225.90 L256.30,225.90 L256.90,225.90 L257.50,225.90 L258.10,225.90 L258.70,225.90 L259.30,225.90 L259.90,225.90 L260.50,225.90 L261.10,225.90 L261.70,225.90 L262.30,225.90 L262.90,225.90 L263.50,225.90 L264.10,225.90 L264.70,225.90 L265.30,225.90 L265.90,225.90 L266.50,225.90 L267.10,225.90 L267.70,225.90 L268.30,225.90" stroke="#713a7c" stroke-width="1.05" fill="none" stroke-linejoin="round"/>
<text x="180.60" y="147.50" font-size="8.2" fill="#713a7c" textLength="27.00" lengthAdjust="spacingAndGlyphs" stroke="#713a7c" stroke-width="0.15" >Isotype</text>
<text x="235.40" y="147.30" font-size="8.2" fill="#44639a" textLength="24.00" lengthAdjust="spacingAndGlyphs" stroke="#44639a" stroke-width="0.15" >DMSO</text>
<text x="235.40" y="158.30" font-size="8.2" fill="#5fa044" textLength="24.00" lengthAdjust="spacingAndGlyphs" stroke="#5fa044" stroke-width="0.15" >0.1&#160;&#160;<tspan font-style="italic">µ</tspan>M</text>
<text x="235.40" y="169.80" font-size="8.2" fill="#b8263e" textLength="17.00" lengthAdjust="spacingAndGlyphs" stroke="#b8263e" stroke-width="0.15" >1 <tspan font-style="italic">µ</tspan>M</text>
<text x="168.40" y="245.50" font-size="9.2" fill="#231f20" textLength="8.40" lengthAdjust="spacingAndGlyphs" stroke="#231f20" stroke-width="0.15" >10</text>
<text x="177.60" y="241.60" font-size="6.4" fill="#231f20" textLength="9.00" lengthAdjust="spacingAndGlyphs" stroke="#231f20" stroke-width="0.15" >4.1</text>
<text x="215.20" y="245.50" font-size="9.2" fill="#231f20" textLength="8.40" lengthAdjust="spacingAndGlyphs" stroke="#231f20" stroke-width="0.15" >10</text>
<text x="224.40" y="241.60" font-size="6.4" fill="#231f20" textLength="3.50" lengthAdjust="spacingAndGlyphs" stroke="#231f20" stroke-width="0.15" >5</text>
<text x="258.00" y="245.50" font-size="9.2" fill="#231f20" textLength="8.40" lengthAdjust="spacingAndGlyphs" stroke="#231f20" stroke-width="0.15" >10</text>
<text x="267.20" y="241.60" font-size="6.4" fill="#231f20" textLength="9.00" lengthAdjust="spacingAndGlyphs" stroke="#231f20" stroke-width="0.15" >5.9</text>
<text x="18.20" y="215.70" font-size="11.2" fill="#231f20" textLength="30.30" lengthAdjust="spacingAndGlyphs" transform="rotate(-90 18.20 215.70)" stroke="#231f20" stroke-width="0.15" >Events</text>
<line x1="26.90" y1="222.00" x2="26.90" y2="186.80" stroke="#231f20" stroke-width="1.5" />
<path d="M26.90,179.80 L29.90,186.80 L23.90,186.80 Z" fill="#231f20"/>
<line x1="104.50" y1="254.20" x2="203.80" y2="254.20" stroke="#231f20" stroke-width="1.6" />
<path d="M210.80,254.20 L203.80,257.10 L203.80,251.30 Z" fill="#231f20"/>
<text x="150.00" y="270.80" font-size="10.6" fill="#231f20" textLength="16.20" lengthAdjust="spacingAndGlyphs" stroke="#231f20" stroke-width="0.15" >AID</text>
<line x1="331.50" y1="63.30" x2="331.50" y2="186.70" stroke="#231f20" stroke-width="1.2" />
<line x1="331.00" y1="186.20" x2="511.50" y2="186.20" stroke="#231f20" stroke-width="1.2" />
<line x1="327.80" y1="186.20" x2="331.50" y2="186.20" stroke="#231f20" stroke-width="1" />
<text x="324.40" y="189.10" font-size="9" fill="#231f20" text-anchor="end" textLength="4.80" lengthAdjust="spacingAndGlyphs" stroke="#231f20" stroke-width="0.15" >0</text>
<line x1="327.80" y1="162.26" x2="331.50" y2="162.26" stroke="#231f20" stroke-width="1" />
<text x="324.40" y="165.16" font-size="9" fill="#231f20" text-anchor="end" textLength="9.60" lengthAdjust="spacingAndGlyphs" stroke="#231f20" stroke-width="0.15" >20</text>
<line x1="327.80" y1="138.32" x2="331.50" y2="138.32" stroke="#231f20" stroke-width="1" />
<text x="324.40" y="141.22" font-size="9" fill="#231f20" text-anchor="end" textLength="9.60" lengthAdjust="spacingAndGlyphs" stroke="#231f20" stroke-width="0.15" >40</text>
<line x1="327.80" y1="114.38" x2="331.50" y2="114.38" stroke="#231f20" stroke-width="1" />
<text x="324.40" y="117.28" font-size="9" fill="#231f20" text-anchor="end" textLength="9.60" lengthAdjust="spacingAndGlyphs" stroke="#231f20" stroke-width="0.15" >60</text>
<line x1="327.80" y1="90.44" x2="331.50" y2="90.44" stroke="#231f20" stroke-width="1" />
<text x="324.40" y="93.34" font-size="9" fill="#231f20" text-anchor="end" textLength="9.60" lengthAdjust="spacingAndGlyphs" stroke="#231f20" stroke-width="0.15" >80</text>
<line x1="327.80" y1="66.50" x2="331.50" y2="66.50" stroke="#231f20" stroke-width="1" />
<text x="324.40" y="69.40" font-size="9" fill="#231f20" text-anchor="end" textLength="14.20" lengthAdjust="spacingAndGlyphs" stroke="#231f20" stroke-width="0.15" >100</text>
<line x1="349.30" y1="186.20" x2="349.30" y2="189.70" stroke="#231f20" stroke-width="1" />
<text x="349.30" y="201.60" font-size="9" fill="#231f20" text-anchor="middle" textLength="8.10" lengthAdjust="spacingAndGlyphs" stroke="#231f20" stroke-width="0.15" >t0</text>
<line x1="385.30" y1="186.20" x2="385.30" y2="189.70" stroke="#231f20" stroke-width="1" />
<text x="385.30" y="201.60" font-size="9" fill="#231f20" text-anchor="middle" textLength="10.00" lengthAdjust="spacingAndGlyphs" stroke="#231f20" stroke-width="0.15" >24</text>
<line x1="421.30" y1="186.20" x2="421.30" y2="189.70" stroke="#231f20" stroke-width="1" />
<text x="421.30" y="201.60" font-size="9" fill="#231f20" text-anchor="middle" textLength="10.00" lengthAdjust="spacingAndGlyphs" stroke="#231f20" stroke-width="0.15" >48</text>
<line x1="457.00" y1="186.20" x2="457.00" y2="189.70" stroke="#231f20" stroke-width="1" />
<text x="457.00" y="201.60" font-size="9" fill="#231f20" text-anchor="middle" textLength="10.00" lengthAdjust="spacingAndGlyphs" stroke="#231f20" stroke-width="0.15" >72</text>
<line x1="492.80" y1="186.20" x2="492.80" y2="189.70" stroke="#231f20" stroke-width="1" />
<text x="492.80" y="201.60" font-size="9" fill="#231f20" text-anchor="middle" textLength="10.00" lengthAdjust="spacingAndGlyphs" stroke="#231f20" stroke-width="0.15" >96</text>
<text x="403.50" y="214.80" font-size="9" fill="#231f20" textLength="36.00" lengthAdjust="spacingAndGlyphs" stroke="#231f20" stroke-width="0.15" >Time (hs)</text>
<text x="302.20" y="157.00" font-size="9.4" fill="#231f20" textLength="63.60" lengthAdjust="spacingAndGlyphs" transform="rotate(-90 302.20 157.00)" stroke="#231f20" stroke-width="0.15" >%Ki-67 <tspan font-size="8" dy="-3">+</tspan><tspan dy="3"> cells</tspan></text>
<path d="M349.30,68.10 L385.30,68.30 L421.30,76.00 L457.00,79.60 L492.80,78.70" stroke="#46679a" stroke-width="1.5" fill="none" />
<path d="M349.30,71.30 L385.30,72.50 L421.30,83.60 L457.00,77.80 L492.80,82.70" stroke="#ae2c44" stroke-width="1.5" fill="none" />
<circle cx="349.30" cy="71.30" r="3.5" fill="#46679a" stroke="#2c3f5e" stroke-width="0.8"/>
<circle cx="349.30" cy="68.10" r="3.5" fill="#46679a" stroke="#2c3f5e" stroke-width="0.8"/>
<circle cx="385.30" cy="68.30" r="3.5" fill="#46679a" stroke="#2c3f5e" stroke-width="0.6"/>
<circle cx="385.30" cy="72.50" r="3.5" fill="#ae2c44" stroke="#6e1a2a" stroke-width="0.6"/>
<circle cx="421.30" cy="76.00" r="3.5" fill="#46679a" stroke="#2c3f5e" stroke-width="0.6"/>
<circle cx="421.30" cy="83.60" r="3.5" fill="#ae2c44" stroke="#6e1a2a" stroke-width="0.6"/>
<circle cx="457.00" cy="79.60" r="3.5" fill="#46679a" stroke="#2c3f5e" stroke-width="0.6"/>
<circle cx="457.00" cy="77.80" r="3.5" fill="#ae2c44" stroke="#6e1a2a" stroke-width="0.6"/>
<circle cx="492.80" cy="78.70" r="3.5" fill="#46679a" stroke="#2c3f5e" stroke-width="0.6"/>
<circle cx="492.80" cy="82.70" r="3.5" fill="#ae2c44" stroke="#6e1a2a" stroke-width="0.6"/>
<line x1="385.20" y1="106.00" x2="385.20" y2="93.00" stroke="#231f20" stroke-width="1.4" />
<path d="M385.20,85.60 L388.40,93.00 L382.00,93.00 Z" fill="#231f20"/>
<text x="370.10" y="115.80" font-size="8.9" fill="#231f20" textLength="31.70" lengthAdjust="spacingAndGlyphs" stroke="#231f20" stroke-width="0.15" >Ibrutinib</text>
<circle cx="439.50" cy="163.80" r="3.4" fill="#46679a" stroke="#2a2a3a" stroke-width="0.7"/>
<circle cx="439.50" cy="175.00" r="3.4" fill="#ae2c44" stroke="#2a2a3a" stroke-width="0.7"/>
<text x="447.00" y="166.60" font-size="8.2" fill="#5a78a8" textLength="23.30" lengthAdjust="spacingAndGlyphs" stroke="#5a78a8" stroke-width="0.15" >DMSO</text>
<text x="447.00" y="178.00" font-size="8.2" fill="#b03a50" textLength="53.00" lengthAdjust="spacingAndGlyphs" stroke="#b03a50" stroke-width="0.15" >Ibrutinib (1 <tspan font-style="italic">µ</tspan>M)</text>
<text x="9.20" y="300.60" font-size="14" fill="#231f20" textLength="7.00" lengthAdjust="spacingAndGlyphs" stroke="#231f20" stroke-width="0.15" >B</text>
<line x1="56.10" y1="310.00" x2="56.10" y2="361.00" stroke="#231f20" stroke-width="1.2" />
<line x1="53.10" y1="361.00" x2="59.70" y2="361.00" stroke="#231f20" stroke-width="1.2" />
<line x1="53.10" y1="368.00" x2="59.70" y2="368.00" stroke="#231f20" stroke-width="1.2" />
<line x1="56.10" y1="368.00" x2="56.10" y2="414.60" stroke="#231f20" stroke-width="1.2" />
<line x1="55.50" y1="414.60" x2="207.50" y2="414.60" stroke="#231f20" stroke-width="1.2" />
<line x1="52.30" y1="360.80" x2="56.10" y2="360.80" stroke="#231f20" stroke-width="1" />
<text x="48.80" y="363.70" font-size="8.3" fill="#231f20" text-anchor="end" textLength="9.40" lengthAdjust="spacingAndGlyphs" stroke="#231f20" stroke-width="0.1" >25</text>
<line x1="52.30" y1="351.38" x2="56.10" y2="351.38" stroke="#231f20" stroke-width="1" />
<text x="48.80" y="354.28" font-size="8.3" fill="#231f20" text-anchor="end" textLength="9.40" lengthAdjust="spacingAndGlyphs" stroke="#231f20" stroke-width="0.1" >30</text>
<line x1="52.30" y1="341.96" x2="56.10" y2="341.96" stroke="#231f20" stroke-width="1" />
<text x="48.80" y="344.86" font-size="8.3" fill="#231f20" text-anchor="end" textLength="9.40" lengthAdjust="spacingAndGlyphs" stroke="#231f20" stroke-width="0.1" >35</text>
<line x1="52.30" y1="332.54" x2="56.10" y2="332.54" stroke="#231f20" stroke-width="1" />
<text x="48.80" y="335.44" font-size="8.3" fill="#231f20" text-anchor="end" textLength="9.40" lengthAdjust="spacingAndGlyphs" stroke="#231f20" stroke-width="0.1" >40</text>
<line x1="52.30" y1="323.12" x2="56.10" y2="323.12" stroke="#231f20" stroke-width="1" />
<text x="48.80" y="326.02" font-size="8.3" fill="#231f20" text-anchor="end" textLength="9.40" lengthAdjust="spacingAndGlyphs" stroke="#231f20" stroke-width="0.1" >45</text>
<line x1="52.30" y1="313.70" x2="56.10" y2="313.70" stroke="#231f20" stroke-width="1" />
<text x="48.80" y="316.60" font-size="8.3" fill="#231f20" text-anchor="end" textLength="9.40" lengthAdjust="spacingAndGlyphs" stroke="#231f20" stroke-width="0.1" >50</text>
<line x1="52.30" y1="414.50" x2="56.10" y2="414.50" stroke="#231f20" stroke-width="1" />
<text x="48.80" y="417.40" font-size="8.3" fill="#231f20" text-anchor="end" stroke="#231f20" stroke-width="0.1" >-5</text>
<line x1="52.30" y1="403.00" x2="56.10" y2="403.00" stroke="#231f20" stroke-width="1" />
<text x="48.80" y="405.90" font-size="8.3" fill="#231f20" text-anchor="end" stroke="#231f20" stroke-width="0.1" >0</text>
<line x1="52.30" y1="391.50" x2="56.10" y2="391.50" stroke="#231f20" stroke-width="1" />
<text x="48.80" y="394.40" font-size="8.3" fill="#231f20" text-anchor="end" stroke="#231f20" stroke-width="0.1" >5</text>
<line x1="52.30" y1="380.00" x2="56.10" y2="380.00" stroke="#231f20" stroke-width="1" />
<text x="48.80" y="382.90" font-size="8.3" fill="#231f20" text-anchor="end" textLength="9.40" lengthAdjust="spacingAndGlyphs" stroke="#231f20" stroke-width="0.1" >10</text>
<line x1="52.30" y1="368.50" x2="56.10" y2="368.50" stroke="#231f20" stroke-width="1" />
<text x="48.80" y="371.40" font-size="8.3" fill="#231f20" text-anchor="end" textLength="9.40" lengthAdjust="spacingAndGlyphs" stroke="#231f20" stroke-width="0.1" >15</text>
<line x1="54.10" y1="408.75" x2="56.10" y2="408.75" stroke="#231f20" stroke-width="0.9" />
<line x1="54.10" y1="397.25" x2="56.10" y2="397.25" stroke="#231f20" stroke-width="0.9" />
<line x1="54.10" y1="385.75" x2="56.10" y2="385.75" stroke="#231f20" stroke-width="0.9" />
<line x1="54.10" y1="374.25" x2="56.10" y2="374.25" stroke="#231f20" stroke-width="0.9" />
<text x="31.20" y="409.40" font-size="9.4" fill="#231f20" textLength="93.70" lengthAdjust="spacingAndGlyphs" transform="rotate(-90 31.20 409.40)" stroke="#231f20" stroke-width="0.15" >AICDA/GAPDH ratio</text>
<text x="73.00" y="330.00" font-size="7.8" fill="#231f20" textLength="90.00" lengthAdjust="spacingAndGlyphs" stroke="#231f20" stroke-width="0.15" >AICDA mRNA expression</text>
<line x1="66.60" y1="414.60" x2="66.60" y2="418.60" stroke="#231f20" stroke-width="1" />
<text x="69.60" y="424.70" font-size="9.2" fill="#231f20" text-anchor="end" textLength="34.00" lengthAdjust="spacingAndGlyphs" transform="rotate(-45 69.60 424.70)" stroke="#231f20" stroke-width="0.15" >Ctrl 24hs</text>
<line x1="88.40" y1="414.60" x2="88.40" y2="418.60" stroke="#231f20" stroke-width="1" />
<text x="91.40" y="424.70" font-size="9.2" fill="#231f20" text-anchor="end" textLength="50.00" lengthAdjust="spacingAndGlyphs" transform="rotate(-45 91.40 424.70)" stroke="#231f20" stroke-width="0.15" >Ibru 0.3 24hs</text>
<line x1="110.20" y1="414.60" x2="110.20" y2="418.60" stroke="#231f20" stroke-width="1" />
<text x="113.20" y="424.70" font-size="9.2" fill="#231f20" text-anchor="end" textLength="43.00" lengthAdjust="spacingAndGlyphs" transform="rotate(-45 113.20 424.70)" stroke="#231f20" stroke-width="0.15" >Ibru 1 24hs</text>
<line x1="131.70" y1="414.60" x2="131.70" y2="418.60" stroke="#231f20" stroke-width="1" />
<text x="134.70" y="424.70" font-size="9.2" fill="#231f20" text-anchor="end" textLength="36.00" lengthAdjust="spacingAndGlyphs" transform="rotate(-45 134.70 424.70)" stroke="#231f20" stroke-width="0.15" >Ctrl 48hs</text>
<line x1="153.00" y1="414.60" x2="153.00" y2="418.60" stroke="#231f20" stroke-width="1" />
<text x="156.00" y="424.70" font-size="9.2" fill="#231f20" text-anchor="end" textLength="52.00" lengthAdjust="spacingAndGlyphs" transform="rotate(-45 156.00 424.70)" stroke="#231f20" stroke-width="0.15" >Ibru 0.3 48hs</text>
<line x1="174.40" y1="414.60" x2="174.40" y2="418.60" stroke="#231f20" stroke-width="1" />
<text x="177.40" y="424.70" font-size="9.2" fill="#231f20" text-anchor="end" textLength="43.00" lengthAdjust="spacingAndGlyphs" transform="rotate(-45 177.40 424.70)" stroke="#231f20" stroke-width="0.15" >Ibru 1 48hs</text>
<line x1="196.20" y1="414.60" x2="196.20" y2="418.60" stroke="#231f20" stroke-width="1" />
<text x="199.20" y="424.70" font-size="9.2" fill="#231f20" text-anchor="end" textLength="46.00" lengthAdjust="spacingAndGlyphs" transform="rotate(-45 199.20 424.70)" stroke="#231f20" stroke-width="0.15" >CD40L + IL4</text>
<circle cx="67.00" cy="373.20" r="2.1" fill="none" stroke="#6aa84f" stroke-width="0.9"/>
<path d="M67.00,389.70 L69.30,392.00 L67.00,394.30 L64.70,392.00 Z" fill="none" stroke="#6aa84f" stroke-width="0.9"/>
<circle cx="65.00" cy="399.80" r="2.1" fill="none" stroke="#6aa84f" stroke-width="0.9"/>
<circle cx="69.00" cy="398.50" r="2.1" fill="none" stroke="#6aa84f" stroke-width="0.9"/>
<circle cx="62.70" cy="395.60" r="2.4" fill="#3c5a8c" stroke="#222" stroke-width="0.6"/>
<circle cx="71.20" cy="399.40" r="2.4" fill="#a8263a" stroke="#222" stroke-width="0.6"/>
<line x1="66.60" y1="384.40" x2="66.60" y2="404.20" stroke="#231f20" stroke-width="1.1" />
<line x1="62.60" y1="384.40" x2="70.60" y2="384.40" stroke="#231f20" stroke-width="1.1" />
<line x1="62.60" y1="404.20" x2="70.60" y2="404.20" stroke="#231f20" stroke-width="1.1" />
<line x1="58.90" y1="394.40" x2="74.30" y2="394.40" stroke="#231f20" stroke-width="1.1" />
<path d="M85.20,388.50 L87.50,390.80 L85.20,393.10 L82.90,390.80 Z" fill="none" stroke="#6aa84f" stroke-width="0.9"/>
<path d="M92.00,392.70 L94.30,395.00 L92.00,397.30 L89.70,395.00 Z" fill="none" stroke="#6aa84f" stroke-width="0.9"/>
<circle cx="88.50" cy="402.30" r="2.1" fill="none" stroke="#6aa84f" stroke-width="0.9"/>
<circle cx="86.00" cy="401.50" r="2.1" fill="none" stroke="#6aa84f" stroke-width="0.9"/>
<circle cx="91.00" cy="401.80" r="2.1" fill="none" stroke="#6aa84f" stroke-width="0.9"/>
<circle cx="84.60" cy="400.40" r="2.2" fill="#3c5a8c" stroke="#222" stroke-width="0.6"/>
<circle cx="92.30" cy="400.80" r="2.2" fill="#a8263a" stroke="#222" stroke-width="0.6"/>
<line x1="88.40" y1="394.40" x2="88.40" y2="403.00" stroke="#231f20" stroke-width="1.1" />
<line x1="84.40" y1="394.40" x2="92.40" y2="394.40" stroke="#231f20" stroke-width="1.1" />
<line x1="84.40" y1="403.00" x2="92.40" y2="403.00" stroke="#231f20" stroke-width="1.1" />
<line x1="81.90" y1="398.80" x2="94.90" y2="398.80" stroke="#231f20" stroke-width="1.1" />
<path d="M103.90,398.42 L108.70,398.42 L106.30,394.10 Z" fill="#a8263a" stroke="#2a2a3a" stroke-width="0.5"/>
<path d="M110.60,396.92 L115.40,396.92 L113.00,392.60 Z" fill="#6d3577" stroke="#2a2a3a" stroke-width="0.5"/>
<path d="M104.90,404.32 L109.70,404.32 L107.30,400.00 Z" fill="#6d3577" stroke="#2a2a3a" stroke-width="0.5"/>
<path d="M109.60,404.32 L114.40,404.32 L112.00,400.00 Z" fill="#6d3577" stroke="#2a2a3a" stroke-width="0.5"/>
<path d="M107.80,402.76 L112.20,402.76 L110.00,398.80 Z" fill="#3c5a8c" stroke="#2a2a3a" stroke-width="0.5"/>
<line x1="110.20" y1="395.60" x2="110.20" y2="401.70" stroke="#231f20" stroke-width="1.1" />
<line x1="106.20" y1="395.60" x2="114.20" y2="395.60" stroke="#231f20" stroke-width="1.1" />
<line x1="106.20" y1="401.70" x2="114.20" y2="401.70" stroke="#231f20" stroke-width="1.1" />
<line x1="104.20" y1="398.80" x2="116.20" y2="398.80" stroke="#231f20" stroke-width="1.1" />
<circle cx="128.50" cy="376.70" r="2.1" fill="none" stroke="#6aa84f" stroke-width="0.9"/>
<circle cx="131.70" cy="388.70" r="2.1" fill="none" stroke="#6aa84f" stroke-width="0.9"/>
<circle cx="134.20" cy="395.00" r="2.1" fill="none" stroke="#6aa84f" stroke-width="0.9"/>
<circle cx="130.00" cy="401.30" r="2.1" fill="none" stroke="#6aa84f" stroke-width="0.9"/>
<circle cx="133.00" cy="402.00" r="2.1" fill="none" stroke="#6aa84f" stroke-width="0.9"/>
<circle cx="134.20" cy="376.30" r="2.5" fill="#3c5a8c" stroke="#222" stroke-width="0.6"/>
<circle cx="128.50" cy="399.40" r="2.5" fill="#a8263a" stroke="#222" stroke-width="0.6"/>
<line x1="131.70" y1="380.60" x2="131.70" y2="401.30" stroke="#231f20" stroke-width="1.1" />
<line x1="127.70" y1="380.60" x2="135.70" y2="380.60" stroke="#231f20" stroke-width="1.1" />
<line x1="127.70" y1="401.30" x2="135.70" y2="401.30" stroke="#231f20" stroke-width="1.1" />
<line x1="124.00" y1="390.80" x2="139.40" y2="390.80" stroke="#231f20" stroke-width="1.1" />
<path d="M153.00,386.50 L155.30,388.80 L153.00,391.10 L150.70,388.80 Z" fill="none" stroke="#6aa84f" stroke-width="0.9"/>
<circle cx="149.50" cy="400.60" r="2.1" fill="none" stroke="#6aa84f" stroke-width="0.9"/>
<circle cx="153.00" cy="400.80" r="2.1" fill="none" stroke="#6aa84f" stroke-width="0.9"/>
<circle cx="156.00" cy="400.60" r="2.1" fill="none" stroke="#6aa84f" stroke-width="0.9"/>
<path d="M150.30,392.68 L155.10,392.68 L152.70,397.00 Z" fill="#3c5a8c" stroke="#2a2a3a" stroke-width="0.5"/>
<circle cx="158.00" cy="400.80" r="2" fill="#a8263a" stroke="#222" stroke-width="0.6"/>
<line x1="153.00" y1="394.60" x2="153.00" y2="403.00" stroke="#231f20" stroke-width="1.1" />
<line x1="149.00" y1="394.60" x2="157.00" y2="394.60" stroke="#231f20" stroke-width="1.1" />
<line x1="149.00" y1="403.00" x2="157.00" y2="403.00" stroke="#231f20" stroke-width="1.1" />
<line x1="146.80" y1="398.50" x2="159.20" y2="398.50" stroke="#231f20" stroke-width="1.1" />
<path d="M168.50,379.70 L173.50,379.70 L171.00,375.20 Z" fill="#6d3577" stroke="#2a2a3a" stroke-width="0.5"/>
<path d="M175.20,385.50 L180.20,385.50 L177.70,381.00 Z" fill="#3c5a8c" stroke="#2a2a3a" stroke-width="0.5"/>
<path d="M168.50,401.20 L173.50,401.20 L171.00,396.70 Z" fill="#6d3577" stroke="#2a2a3a" stroke-width="0.5"/>
<path d="M175.20,401.20 L180.20,401.20 L177.70,396.70 Z" fill="#6d3577" stroke="#2a2a3a" stroke-width="0.5"/>
<line x1="174.40" y1="383.00" x2="174.40" y2="402.30" stroke="#231f20" stroke-width="1.1" />
<line x1="170.90" y1="383.00" x2="177.90" y2="383.00" stroke="#231f20" stroke-width="1.1" />
<line x1="170.90" y1="402.30" x2="177.90" y2="402.30" stroke="#231f20" stroke-width="1.1" />
<line x1="166.90" y1="392.70" x2="181.90" y2="392.70" stroke="#231f20" stroke-width="1.1" />
<line x1="196.20" y1="317.00" x2="196.20" y2="347.60" stroke="#231f20" stroke-width="1.1" />
<line x1="192.80" y1="317.00" x2="199.60" y2="317.00" stroke="#231f20" stroke-width="1.1" />
<line x1="192.80" y1="347.60" x2="199.60" y2="347.60" stroke="#231f20" stroke-width="1.1" />
<line x1="189.20" y1="332.40" x2="203.20" y2="332.40" stroke="#231f20" stroke-width="1.1" />
<rect x="190.90" y="321.10" width="4.2" height="4.2" fill="none" stroke="#e8962e" stroke-width="0.9"/>
<rect x="194.10" y="327.50" width="4.2" height="4.2" fill="none" stroke="#e8962e" stroke-width="0.9"/>
<rect x="196.70" y="318.70" width="5" height="5" fill="#3c5a8c" stroke="#2a2a3a" stroke-width="0.5"/>
<rect x="193.70" y="352.00" width="5" height="5" fill="#a8263a" stroke="#2a2a3a" stroke-width="0.5"/>
<text x="202.00" y="330.40" font-size="9.1" fill="#231f20" textLength="30.30" lengthAdjust="spacingAndGlyphs" stroke="#231f20" stroke-width="0.15" >CLL 422</text>
<text x="193.00" y="367.80" font-size="9.1" fill="#231f20" textLength="31.00" lengthAdjust="spacingAndGlyphs" stroke="#231f20" stroke-width="0.15" >CLL 456</text>
<line x1="238.90" y1="330.10" x2="252.47" y2="337.60" stroke="#231f20" stroke-width="1.4" />
<path d="M257.90,340.60 L251.07,340.14 L253.88,335.06 Z" fill="#231f20"/>
<line x1="231.20" y1="368.10" x2="253.11" y2="388.03" stroke="#231f20" stroke-width="1.4" />
<path d="M257.70,392.20 L251.16,390.17 L255.06,385.88 Z" fill="#231f20"/>
<text x="328.00" y="297.10" font-size="9.4" fill="#231f20" textLength="14.60" lengthAdjust="spacingAndGlyphs" stroke="#231f20" stroke-width="0.15" >24h</text>
<text x="375.70" y="297.10" font-size="9.4" fill="#231f20" textLength="14.80" lengthAdjust="spacingAndGlyphs" stroke="#231f20" stroke-width="0.15" >48h</text>
<text x="408.50" y="297.10" font-size="9.4" fill="#231f20" textLength="34.50" lengthAdjust="spacingAndGlyphs" stroke="#231f20" stroke-width="0.15" >Ibrutinib</text>
<line x1="319.00" y1="305.20" x2="441.00" y2="305.20" stroke="#231f20" stroke-width="1.1" />
<path d="M448.00,305.20 L441.00,307.80 L441.00,302.60 Z" fill="#231f20"/>
<text x="267.50" y="337.60" font-size="9.6" fill="#231f20" textLength="45.70" lengthAdjust="spacingAndGlyphs" transform="rotate(-45 267.50 337.60)" stroke="#231f20" stroke-width="0.15" >Fresh PBMC</text>
<text x="282.60" y="337.60" font-size="9.6" fill="#231f20" textLength="41.70" lengthAdjust="spacingAndGlyphs" transform="rotate(-45 282.60 337.60)" stroke="#231f20" stroke-width="0.15" >CD40L+IL-4</text>
<text x="298.60" y="337.60" font-size="9.6" fill="#231f20" textLength="24.20" lengthAdjust="spacingAndGlyphs" transform="rotate(-45 298.60 337.60)" stroke="#231f20" stroke-width="0.15" >DMSO</text>
<text x="316.80" y="337.60" font-size="9.6" fill="#231f20" textLength="25.70" lengthAdjust="spacingAndGlyphs" transform="rotate(-45 316.80 337.60)" stroke="#231f20" stroke-width="0.15" >0,1 µM</text>
<text x="332.80" y="337.60" font-size="9.6" fill="#231f20" textLength="19.20" lengthAdjust="spacingAndGlyphs" transform="rotate(-45 332.80 337.60)" stroke="#231f20" stroke-width="0.15" >1 µM</text>
<text x="348.10" y="337.80" font-size="9.6" fill="#231f20" textLength="24.20" lengthAdjust="spacingAndGlyphs" transform="rotate(-45 348.10 337.80)" stroke="#231f20" stroke-width="0.15" >DMSO</text>
<text x="363.30" y="337.80" font-size="9.6" fill="#231f20" textLength="25.70" lengthAdjust="spacingAndGlyphs" transform="rotate(-45 363.30 337.80)" stroke="#231f20" stroke-width="0.15" >0,1 µM</text>
<text x="380.30" y="337.80" font-size="9.6" fill="#231f20" textLength="19.20" lengthAdjust="spacingAndGlyphs" transform="rotate(-45 380.30 337.80)" stroke="#231f20" stroke-width="0.15" >1 µM</text>
<text x="398.30" y="337.80" font-size="9.6" fill="#231f20" textLength="11.70" lengthAdjust="spacingAndGlyphs" transform="rotate(-45 398.30 337.80)" stroke="#231f20" stroke-width="0.15" >(+)</text>
<rect x="261" y="341.5" width="144.5" height="18.5" fill="url(#gB1)" stroke="#656565" stroke-width="1.6"/>
<ellipse cx="283.8" cy="353.1" rx="5.8" ry="0.9" fill="#1e1e1e" opacity="0.95" filter="url(#b5)"/>
<ellipse cx="283.5" cy="353" rx="0.5" ry="3" fill="#1e1e1e" opacity="0.25" filter="url(#b5)"/>
<path d="M394.5,346.5 Q397,343.5 401,344 Q404,345.5 403.5,350 Q402.5,355 398,355.8 Q394,355.5 393.8,351.5 Z" fill="#161616" filter="url(#b8)"/>
<rect x="261" y="363.5" width="144.5" height="16.8" fill="url(#gB2)" stroke="#656565" stroke-width="1.6"/>
<ellipse cx="269.3" cy="373.2" rx="6.8" ry="2.1" fill="#1e1e1e" opacity="0.92" filter="url(#b7)"/>
<ellipse cx="286" cy="374" rx="7.5" ry="2.0" fill="#1e1e1e" opacity="0.92" filter="url(#b7)"/>
<ellipse cx="302.6" cy="375.2" rx="6.0" ry="2.0" fill="#1e1e1e" opacity="0.92" filter="url(#b7)"/>
<ellipse cx="317.8" cy="375.4" rx="6.0" ry="1.7" fill="#1e1e1e" opacity="0.92" filter="url(#b7)"/>
<ellipse cx="334.5" cy="375.3" rx="6.4" ry="1.8" fill="#1e1e1e" opacity="0.92" filter="url(#b7)"/>
<ellipse cx="348.5" cy="375.6" rx="6.0" ry="1.8" fill="#1e1e1e" opacity="0.92" filter="url(#b7)"/>
<ellipse cx="365" cy="373.9" rx="7.6" ry="1.8" fill="#1e1e1e" opacity="0.92" filter="url(#b7)"/>
<ellipse cx="382.4" cy="372.7" rx="6.2" ry="1.4" fill="#1e1e1e" opacity="0.92" filter="url(#b7)"/>
<path d="M392,372.5 Q395,369 400.5,367 Q403,367.5 402,371 Q398,374.5 393,374.5 Z" fill="#1a1a1a" filter="url(#b6)"/>
<rect x="261" y="395.5" width="144.5" height="17.5" fill="url(#gB3)" stroke="#656565" stroke-width="1.6"/>
<ellipse cx="287" cy="407.6" rx="6.5" ry="1.7" fill="#1e1e1e" opacity="0.8" filter="url(#b10)"/>
<ellipse cx="286" cy="400" rx="5" ry="1.5" fill="#1e1e1e" opacity="0.12" filter="url(#b15)"/>
<ellipse cx="316" cy="400" rx="6" ry="1.6" fill="#1e1e1e" opacity="0.18" filter="url(#b15)"/>
<ellipse cx="331" cy="400.5" rx="7" ry="1.6" fill="#1e1e1e" opacity="0.12" filter="url(#b15)"/>
<circle cx="296.8" cy="400.6" r="0.7" fill="#444" opacity="0.7"/>
<circle cx="306.5" cy="407.5" r="0.7" fill="#444" opacity="0.7"/>
<circle cx="326.4" cy="401.9" r="0.7" fill="#444" opacity="0.7"/>
<circle cx="271" cy="405.5" r="0.7" fill="#444" opacity="0.7"/>
<circle cx="352" cy="398.5" r="0.7" fill="#444" opacity="0.7"/>
<ellipse cx="268" cy="401" rx="6" ry="2.5" fill="#1e1e1e" opacity="0.12" filter="url(#b15)"/>
<path d="M372,404 Q376,399 386,398 Q395,397.5 400,399 Q401,407 396,411.5 Q385,412.5 376,410.5 Q372,408 372,404 Z" fill="#555" opacity="0.45" filter="url(#b15)"/>
<path d="M396,396.5 L404,396.3 L404,404 Z" fill="#7a7a7a" opacity="0.8" filter="url(#b8)"/>
<path d="M379.5,400.5 Q388,398.8 395,398.3 Q401,398 402.3,399.5 Q403,406 400.5,410.2 Q396.5,412.2 391,411.8 Q385.5,410.8 383.5,406.5 Q382,402.5 379.5,400.5 Z" fill="#1a1a1a" filter="url(#b8)"/>
<rect x="261" y="416.8" width="144.5" height="17.4" fill="url(#gB2)" stroke="#656565" stroke-width="1.6"/>
<ellipse cx="268.7" cy="425.4" rx="6.8" ry="2.2" fill="#1e1e1e" opacity="0.9" filter="url(#b7)"/>
<ellipse cx="284.2" cy="424.8" rx="7.0" ry="2.7" fill="#1e1e1e" opacity="0.9" filter="url(#b7)"/>
<ellipse cx="300.5" cy="426.1" rx="6.7" ry="2.1" fill="#1e1e1e" opacity="0.9" filter="url(#b7)"/>
<ellipse cx="316.5" cy="426.2" rx="6.7" ry="2.1" fill="#1e1e1e" opacity="0.9" filter="url(#b7)"/>
<ellipse cx="333" cy="427" rx="7.2" ry="2.1" fill="#1e1e1e" opacity="0.9" filter="url(#b7)"/>
<ellipse cx="349.5" cy="426.7" rx="6.7" ry="2.0" fill="#1e1e1e" opacity="0.9" filter="url(#b7)"/>
<ellipse cx="366.2" cy="427" rx="5.8" ry="1.5" fill="#1e1e1e" opacity="0.9" filter="url(#b7)"/>
<ellipse cx="381.3" cy="426.7" rx="6.5" ry="1.8" fill="#1e1e1e" opacity="0.9" filter="url(#b7)"/>
<ellipse cx="397.5" cy="427" rx="5.2" ry="1.0" fill="#1e1e1e" opacity="0.65" filter="url(#b7)"/>
<text x="409.60" y="354.10" font-size="9.2" fill="#231f20" textLength="14.00" lengthAdjust="spacingAndGlyphs" stroke="#231f20" stroke-width="0.15" >AID</text>
<text x="409.60" y="372.60" font-size="9.4" fill="#231f20" textLength="29.40" lengthAdjust="spacingAndGlyphs" stroke="#231f20" stroke-width="0.15" >GAPDH</text>
<text x="409.60" y="411.40" font-size="9.2" fill="#231f20" textLength="14.00" lengthAdjust="spacingAndGlyphs" stroke="#231f20" stroke-width="0.15" >AID</text>
<text x="409.60" y="430.60" font-size="9.4" fill="#231f20" textLength="29.40" lengthAdjust="spacingAndGlyphs" stroke="#231f20" stroke-width="0.15" >GAPDH</text>
<text x="288.60" y="445.90" font-size="9.2" fill="#231f20" textLength="89.00" lengthAdjust="spacingAndGlyphs" stroke="#231f20" stroke-width="0.15" >Protein AID expression</text>
<text x="8.70" y="491.40" font-size="14" fill="#231f20" textLength="7.70" lengthAdjust="spacingAndGlyphs" stroke="#231f20" stroke-width="0.15" >C</text>
<line x1="56.40" y1="493.00" x2="56.40" y2="581.60" stroke="#231f20" stroke-width="1.2" />
<line x1="55.80" y1="581.40" x2="182.50" y2="581.40" stroke="#231f20" stroke-width="1.2" />
<line x1="52.40" y1="573.70" x2="56.40" y2="573.70" stroke="#231f20" stroke-width="1" />
<text x="48.60" y="576.60" font-size="8.2" fill="#231f20" text-anchor="end" stroke="#231f20" stroke-width="0.14" >0</text>
<line x1="52.40" y1="554.28" x2="56.40" y2="554.28" stroke="#231f20" stroke-width="1" />
<text x="48.60" y="557.18" font-size="8.2" fill="#231f20" text-anchor="end" stroke="#231f20" stroke-width="0.14" >25</text>
<line x1="52.40" y1="534.85" x2="56.40" y2="534.85" stroke="#231f20" stroke-width="1" />
<text x="48.60" y="537.75" font-size="8.2" fill="#231f20" text-anchor="end" stroke="#231f20" stroke-width="0.14" >50</text>
<line x1="52.40" y1="515.42" x2="56.40" y2="515.42" stroke="#231f20" stroke-width="1" />
<text x="48.60" y="518.32" font-size="8.2" fill="#231f20" text-anchor="end" stroke="#231f20" stroke-width="0.14" >75</text>
<line x1="52.40" y1="496.00" x2="56.40" y2="496.00" stroke="#231f20" stroke-width="1" />
<text x="48.60" y="498.90" font-size="8.2" fill="#231f20" text-anchor="end" stroke="#231f20" stroke-width="0.14" >100</text>
<line x1="56.40" y1="573.40" x2="167.00" y2="573.40" stroke="#8a8a8a" stroke-width="0.8" />
<line x1="77.20" y1="581.40" x2="77.20" y2="585.00" stroke="#231f20" stroke-width="1" />
<line x1="119.50" y1="581.40" x2="119.50" y2="585.00" stroke="#231f20" stroke-width="1" />
<line x1="162.00" y1="581.40" x2="162.00" y2="585.00" stroke="#231f20" stroke-width="1" />
<text x="77.20" y="596.00" font-size="9.2" fill="#231f20" text-anchor="middle" textLength="19.20" lengthAdjust="spacingAndGlyphs" stroke="#231f20" stroke-width="0.15" >Ctrol</text>
<text x="120.00" y="596.00" font-size="9.2" fill="#231f20" text-anchor="middle" textLength="7.50" lengthAdjust="spacingAndGlyphs" stroke="#231f20" stroke-width="0.15" >(-)</text>
<text x="162.20" y="596.00" font-size="9.2" fill="#231f20" text-anchor="middle" textLength="34.50" lengthAdjust="spacingAndGlyphs" stroke="#231f20" stroke-width="0.15" >ibrutinib</text>
<text x="26.30" y="570.30" font-size="9.4" fill="#231f20" textLength="65.50" lengthAdjust="spacingAndGlyphs" transform="rotate(-90 26.30 570.30)" stroke="#231f20" stroke-width="0.15" >% Ki-67 <tspan font-size="8" dy="-3">+</tspan><tspan dy="3"> cells</tspan></text>
<line x1="77.20" y1="572.60" x2="119.50" y2="519.50" stroke="#1a1a1a" stroke-width="1.15" stroke-dasharray="1.3 0.75"/>
<line x1="119.50" y1="519.50" x2="162.00" y2="532.00" stroke="#1a1a1a" stroke-width="1.15" stroke-dasharray="1.3 0.75"/>
<line x1="77.20" y1="572.60" x2="119.50" y2="530.00" stroke="#1a1a1a" stroke-width="1.15" stroke-dasharray="1.3 0.75"/>
<line x1="119.50" y1="530.00" x2="162.00" y2="549.00" stroke="#1a1a1a" stroke-width="1.15" stroke-dasharray="1.3 0.75"/>
<line x1="77.20" y1="572.80" x2="119.50" y2="545.00" stroke="#1a1a1a" stroke-width="1.15" stroke-dasharray="1.3 0.75"/>
<line x1="119.50" y1="545.00" x2="162.00" y2="557.50" stroke="#1a1a1a" stroke-width="1.15" stroke-dasharray="1.3 0.75"/>
<line x1="77.20" y1="573.00" x2="119.50" y2="555.75" stroke="#1a1a1a" stroke-width="1.15" stroke-dasharray="1.3 0.75"/>
<line x1="119.50" y1="555.75" x2="162.00" y2="560.50" stroke="#1a1a1a" stroke-width="1.15" stroke-dasharray="1.3 0.75"/>
<line x1="77.20" y1="573.70" x2="119.50" y2="562.50" stroke="#1a1a1a" stroke-width="1.15" stroke-dasharray="1.3 0.75"/>
<line x1="119.50" y1="562.50" x2="162.00" y2="566.75" stroke="#1a1a1a" stroke-width="1.15" stroke-dasharray="1.3 0.75"/>
<circle cx="77.20" cy="573.20" r="2.6" fill="#6aa84f" stroke="#333" stroke-width="0.5"/>
<circle cx="77.20" cy="572.80" r="2.6" fill="#3c5a8c" stroke="#333" stroke-width="0.5"/>
<circle cx="77.20" cy="572.30" r="2.6" fill="#6d3577" stroke="#333" stroke-width="0.5"/>
<circle cx="77.40" cy="572.60" r="2.6" fill="#a8263a" stroke="#333" stroke-width="0.5"/>
<circle cx="77.2" cy="573.6" r="2.5" fill="none" stroke="#e8962e" stroke-width="1"/>
<circle cx="119.50" cy="519.50" r="2.6" fill="#6d3577" stroke="#333" stroke-width="0.5"/>
<circle cx="162.00" cy="532.00" r="2.6" fill="#6d3577" stroke="#333" stroke-width="0.5"/>
<circle cx="119.50" cy="530.00" r="2.6" fill="#a8263a" stroke="#333" stroke-width="0.5"/>
<circle cx="162.00" cy="549.00" r="2.6" fill="#a8263a" stroke="#333" stroke-width="0.5"/>
<circle cx="119.50" cy="545.00" r="2.6" fill="#3c5a8c" stroke="#333" stroke-width="0.5"/>
<circle cx="162.00" cy="557.50" r="2.6" fill="#3c5a8c" stroke="#333" stroke-width="0.5"/>
<circle cx="119.50" cy="555.75" r="2.6" fill="#6aa84f" stroke="#333" stroke-width="0.5"/>
<circle cx="162.00" cy="560.50" r="2.6" fill="#6aa84f" stroke="#333" stroke-width="0.5"/>
<circle cx="119.50" cy="562.50" r="2.5" fill="#fff" stroke="#e8962e" stroke-width="1"/>
<circle cx="162.00" cy="566.75" r="2.5" fill="#fff" stroke="#e8962e" stroke-width="1"/>
<circle cx="162.00" cy="557.50" r="2.6" fill="#3c5a8c" stroke="#333" stroke-width="0.5"/>
<line x1="118.30" y1="508.30" x2="162.00" y2="508.30" stroke="#231f20" stroke-width="1" />
<line x1="118.30" y1="508.30" x2="118.30" y2="511.50" stroke="#231f20" stroke-width="1" />
<line x1="162.00" y1="508.30" x2="162.00" y2="518.80" stroke="#231f20" stroke-width="1" />
<text x="137.50" y="505.50" font-size="8" fill="#231f20" text-anchor="middle" stroke="#231f20" stroke-width="0.15" >*</text>
<text x="167.60" y="535.50" font-size="9.1" fill="#231f20" textLength="28.80" lengthAdjust="spacingAndGlyphs" stroke="#231f20" stroke-width="0.15" >CLL 457</text>
<text x="167.60" y="545.00" font-size="9.1" fill="#231f20" textLength="28.80" lengthAdjust="spacingAndGlyphs" stroke="#231f20" stroke-width="0.15" >CLL 456</text>
<text x="167.60" y="554.00" font-size="9.1" fill="#231f20" textLength="28.80" lengthAdjust="spacingAndGlyphs" stroke="#231f20" stroke-width="0.15" >CLL 422</text>
<text x="167.60" y="563.75" font-size="9.1" fill="#231f20" textLength="28.80" lengthAdjust="spacingAndGlyphs" stroke="#231f20" stroke-width="0.15" >CLL 279</text>
<text x="167.60" y="573.00" font-size="9.1" fill="#231f20" textLength="28.80" lengthAdjust="spacingAndGlyphs" stroke="#231f20" stroke-width="0.15" >CLL 252</text>
<line x1="114.80" y1="606.80" x2="176.20" y2="606.80" stroke="#231f20" stroke-width="1.3" />
<line x1="114.80" y1="604.40" x2="114.80" y2="609.20" stroke="#231f20" stroke-width="1.2" />
<line x1="176.20" y1="604.40" x2="176.20" y2="609.20" stroke="#231f20" stroke-width="1.2" />
<text x="180.50" y="609.60" font-size="8.4" fill="#231f20" textLength="39.00" lengthAdjust="spacingAndGlyphs" stroke="#231f20" stroke-width="0.15" >CD40+IL-4</text>
<line x1="274.60" y1="492.70" x2="274.60" y2="581.80" stroke="#231f20" stroke-width="1.2" />
<line x1="274.00" y1="581.20" x2="402.50" y2="581.20" stroke="#231f20" stroke-width="1.2" />
<line x1="270.80" y1="581.20" x2="274.60" y2="581.20" stroke="#231f20" stroke-width="1" />
<text x="267.00" y="584.10" font-size="8.2" fill="#231f20" text-anchor="end" stroke="#231f20" stroke-width="0.14" >0</text>
<line x1="270.80" y1="563.96" x2="274.60" y2="563.96" stroke="#231f20" stroke-width="1" />
<text x="267.00" y="566.86" font-size="8.2" fill="#231f20" text-anchor="end" stroke="#231f20" stroke-width="0.14" >20</text>
<line x1="270.80" y1="546.72" x2="274.60" y2="546.72" stroke="#231f20" stroke-width="1" />
<text x="267.00" y="549.62" font-size="8.2" fill="#231f20" text-anchor="end" stroke="#231f20" stroke-width="0.14" >40</text>
<line x1="270.80" y1="529.48" x2="274.60" y2="529.48" stroke="#231f20" stroke-width="1" />
<text x="267.00" y="532.38" font-size="8.2" fill="#231f20" text-anchor="end" stroke="#231f20" stroke-width="0.14" >60</text>
<line x1="270.80" y1="512.24" x2="274.60" y2="512.24" stroke="#231f20" stroke-width="1" />
<text x="267.00" y="515.14" font-size="8.2" fill="#231f20" text-anchor="end" stroke="#231f20" stroke-width="0.14" >80</text>
<line x1="270.80" y1="495.00" x2="274.60" y2="495.00" stroke="#231f20" stroke-width="1" />
<text x="267.00" y="497.90" font-size="8.2" fill="#231f20" text-anchor="end" stroke="#231f20" stroke-width="0.14" >100</text>
<line x1="295.40" y1="581.20" x2="295.40" y2="584.80" stroke="#231f20" stroke-width="1" />
<line x1="338.00" y1="581.20" x2="338.00" y2="584.80" stroke="#231f20" stroke-width="1" />
<line x1="380.30" y1="581.20" x2="380.30" y2="584.80" stroke="#231f20" stroke-width="1" />
<text x="295.60" y="596.50" font-size="9.2" fill="#231f20" text-anchor="middle" textLength="19.60" lengthAdjust="spacingAndGlyphs" stroke="#231f20" stroke-width="0.15" >Ctrol</text>
<text x="338.00" y="596.50" font-size="9.2" fill="#231f20" text-anchor="middle" textLength="7.50" lengthAdjust="spacingAndGlyphs" stroke="#231f20" stroke-width="0.15" >(-)</text>
<text x="380.50" y="596.50" font-size="9.2" fill="#231f20" text-anchor="middle" textLength="34.50" lengthAdjust="spacingAndGlyphs" stroke="#231f20" stroke-width="0.15" >ibrutinib</text>
<text x="244.40" y="578.80" font-size="9.8" fill="#231f20" textLength="84.40" lengthAdjust="spacingAndGlyphs" transform="rotate(-90 244.40 578.80)" stroke="#231f20" stroke-width="0.15" >Cell viability (%PI)</text>
<line x1="295.40" y1="502.70" x2="338.00" y2="500.40" stroke="#1a1a1a" stroke-width="1.15" stroke-dasharray="1.3 0.75"/>
<line x1="338.00" y1="500.40" x2="380.30" y2="509.00" stroke="#1a1a1a" stroke-width="1.15" stroke-dasharray="1.3 0.75"/>
<line x1="295.40" y1="504.30" x2="338.00" y2="512.00" stroke="#1a1a1a" stroke-width="1.15" stroke-dasharray="1.3 0.75"/>
<line x1="338.00" y1="512.00" x2="380.30" y2="512.00" stroke="#1a1a1a" stroke-width="1.15" stroke-dasharray="1.3 0.75"/>
<line x1="295.40" y1="506.60" x2="338.00" y2="507.30" stroke="#1a1a1a" stroke-width="1.15" stroke-dasharray="1.3 0.75"/>
<line x1="338.00" y1="507.30" x2="380.30" y2="516.50" stroke="#1a1a1a" stroke-width="1.15" stroke-dasharray="1.3 0.75"/>
<line x1="295.40" y1="510.30" x2="338.00" y2="516.00" stroke="#1a1a1a" stroke-width="1.15" stroke-dasharray="1.3 0.75"/>
<line x1="338.00" y1="516.00" x2="380.30" y2="515.00" stroke="#1a1a1a" stroke-width="1.15" stroke-dasharray="1.3 0.75"/>
<line x1="295.40" y1="505.00" x2="338.00" y2="503.80" stroke="#1a1a1a" stroke-width="1.15" stroke-dasharray="1.3 0.75"/>
<line x1="338.00" y1="503.80" x2="380.30" y2="505.70" stroke="#1a1a1a" stroke-width="1.15" stroke-dasharray="1.3 0.75"/>
<circle cx="295.40" cy="505.00" r="2.5" fill="#fff" stroke="#e8962e" stroke-width="1"/>
<circle cx="295.40" cy="510.30" r="2.6" fill="#3c5a8c" stroke="#333" stroke-width="0.5"/>
<circle cx="295.40" cy="506.60" r="2.6" fill="#6aa84f" stroke="#333" stroke-width="0.5"/>
<circle cx="295.40" cy="504.30" r="2.6" fill="#6d3577" stroke="#333" stroke-width="0.5"/>
<circle cx="295.40" cy="502.70" r="2.6" fill="#a8263a" stroke="#333" stroke-width="0.5"/>
<circle cx="338.00" cy="516.00" r="2.6" fill="#3c5a8c" stroke="#333" stroke-width="0.5"/>
<circle cx="338.00" cy="512.00" r="2.6" fill="#6d3577" stroke="#333" stroke-width="0.5"/>
<circle cx="338.00" cy="507.30" r="2.6" fill="#6aa84f" stroke="#333" stroke-width="0.5"/>
<circle cx="338.00" cy="500.40" r="2.6" fill="#a8263a" stroke="#333" stroke-width="0.5"/>
<circle cx="338.00" cy="503.80" r="2.5" fill="#fff" stroke="#e8962e" stroke-width="1"/>
<circle cx="380.30" cy="516.50" r="2.6" fill="#6aa84f" stroke="#333" stroke-width="0.5"/>
<circle cx="380.30" cy="515.00" r="2.6" fill="#3c5a8c" stroke="#333" stroke-width="0.5"/>
<circle cx="380.30" cy="512.00" r="2.6" fill="#6d3577" stroke="#333" stroke-width="0.5"/>
<circle cx="380.30" cy="509.00" r="2.6" fill="#a8263a" stroke="#333" stroke-width="0.5"/>
<circle cx="380.30" cy="505.70" r="2.5" fill="#fff" stroke="#e8962e" stroke-width="1"/>
<line x1="332.80" y1="606.80" x2="395.00" y2="606.80" stroke="#231f20" stroke-width="1.3" />
<line x1="332.80" y1="604.40" x2="332.80" y2="609.20" stroke="#231f20" stroke-width="1.2" />
<line x1="395.00" y1="604.40" x2="395.00" y2="609.20" stroke="#231f20" stroke-width="1.2" />
<text x="399.00" y="609.60" font-size="8.4" fill="#231f20" textLength="38.50" lengthAdjust="spacingAndGlyphs" stroke="#231f20" stroke-width="0.15" >CD40+IL-4</text>
<line x1="55.90" y1="627.40" x2="55.90" y2="715.90" stroke="#231f20" stroke-width="1.2" />
<line x1="55.30" y1="715.30" x2="180.00" y2="715.30" stroke="#231f20" stroke-width="1.2" />
<line x1="52.40" y1="710.10" x2="55.90" y2="710.10" stroke="#231f20" stroke-width="1" />
<text x="48.70" y="713.00" font-size="8.2" fill="#231f20" text-anchor="end" stroke="#231f20" stroke-width="0.14" >0</text>
<line x1="52.40" y1="690.02" x2="55.90" y2="690.02" stroke="#231f20" stroke-width="1" />
<text x="48.70" y="692.92" font-size="8.2" fill="#231f20" text-anchor="end" stroke="#231f20" stroke-width="0.14" >20</text>
<line x1="52.40" y1="669.95" x2="55.90" y2="669.95" stroke="#231f20" stroke-width="1" />
<text x="48.70" y="672.85" font-size="8.2" fill="#231f20" text-anchor="end" stroke="#231f20" stroke-width="0.14" >40</text>
<line x1="52.40" y1="649.88" x2="55.90" y2="649.88" stroke="#231f20" stroke-width="1" />
<text x="48.70" y="652.77" font-size="8.2" fill="#231f20" text-anchor="end" stroke="#231f20" stroke-width="0.14" >60</text>
<line x1="52.40" y1="629.80" x2="55.90" y2="629.80" stroke="#231f20" stroke-width="1" />
<text x="48.70" y="632.70" font-size="8.2" fill="#231f20" text-anchor="end" stroke="#231f20" stroke-width="0.14" >80</text>
<line x1="77.20" y1="715.30" x2="77.20" y2="719.00" stroke="#231f20" stroke-width="1" />
<line x1="119.30" y1="715.30" x2="119.30" y2="719.00" stroke="#231f20" stroke-width="1" />
<line x1="162.30" y1="715.30" x2="162.30" y2="719.00" stroke="#231f20" stroke-width="1" />
<text x="77.40" y="730.10" font-size="9.2" fill="#231f20" text-anchor="middle" textLength="19.20" lengthAdjust="spacingAndGlyphs" stroke="#231f20" stroke-width="0.15" >Ctrol</text>
<text x="119.50" y="730.10" font-size="9.2" fill="#231f20" text-anchor="middle" textLength="7.50" lengthAdjust="spacingAndGlyphs" stroke="#231f20" stroke-width="0.15" >(-)</text>
<text x="162.50" y="730.10" font-size="9.2" fill="#231f20" text-anchor="middle" textLength="34.50" lengthAdjust="spacingAndGlyphs" stroke="#231f20" stroke-width="0.15" >ibrutinib</text>
<text x="32.00" y="718.20" font-size="9.6" fill="#231f20" textLength="94.50" lengthAdjust="spacingAndGlyphs" transform="rotate(-90 32.00 718.20)" stroke="#231f20" stroke-width="0.15" >AICDA/GAPDH ratio</text>
<line x1="77.20" y1="678.40" x2="77.20" y2="710.10" stroke="#231f20" stroke-width="1.1" />
<line x1="70.20" y1="678.40" x2="84.20" y2="678.40" stroke="#231f20" stroke-width="1.1" />
<line x1="70.20" y1="710.10" x2="84.20" y2="710.10" stroke="#231f20" stroke-width="1.1" />
<line x1="62.70" y1="694.50" x2="91.70" y2="694.50" stroke="#231f20" stroke-width="1.2" stroke-dasharray="1.2 1"/>
<line x1="119.30" y1="646.50" x2="119.30" y2="696.60" stroke="#231f20" stroke-width="1.1" />
<line x1="112.30" y1="646.50" x2="126.30" y2="646.50" stroke="#231f20" stroke-width="1.1" />
<line x1="112.30" y1="696.60" x2="126.30" y2="696.60" stroke="#231f20" stroke-width="1.1" />
<line x1="104.80" y1="671.40" x2="133.80" y2="671.40" stroke="#231f20" stroke-width="1.2" stroke-dasharray="1.2 1"/>
<line x1="162.30" y1="677.80" x2="162.30" y2="703.70" stroke="#231f20" stroke-width="1.1" />
<line x1="155.30" y1="677.80" x2="169.30" y2="677.80" stroke="#231f20" stroke-width="1.1" />
<line x1="155.30" y1="703.70" x2="169.30" y2="703.70" stroke="#231f20" stroke-width="1.1" />
<line x1="147.70" y1="690.80" x2="176.90" y2="690.80" stroke="#231f20" stroke-width="1.2" stroke-dasharray="1.2 1"/>
<circle cx="77.20" cy="670.20" r="2.5" fill="#a8263a" stroke="#333" stroke-width="0.5"/>
<circle cx="77.20" cy="689.20" r="2.5" fill="#6aa84f" stroke="#333" stroke-width="0.5"/>
<circle cx="80.30" cy="704.00" r="2.5" fill="#6d3577" stroke="#333" stroke-width="0.5"/>
<circle cx="77.20" cy="701.60" r="2.4" fill="#fff" stroke="#e8962e" stroke-width="1"/>
<circle cx="74.60" cy="709.20" r="2.5" fill="#3c5a8c" stroke="#333" stroke-width="0.5"/>
<circle cx="119.70" cy="641.00" r="2.5" fill="#a8263a" stroke="#333" stroke-width="0.5"/>
<circle cx="119.00" cy="648.30" r="2.4" fill="#fff" stroke="#e8962e" stroke-width="1"/>
<circle cx="117.20" cy="684.30" r="2.5" fill="#6aa84f" stroke="#333" stroke-width="0.5"/>
<circle cx="122.20" cy="686.00" r="2.5" fill="#6d3577" stroke="#333" stroke-width="0.5"/>
<circle cx="119.70" cy="697.50" r="2.5" fill="#3c5a8c" stroke="#333" stroke-width="0.5"/>
<circle cx="162.00" cy="673.00" r="2.5" fill="#a8263a" stroke="#333" stroke-width="0.5"/>
<circle cx="160.00" cy="685.50" r="2.4" fill="#fff" stroke="#e8962e" stroke-width="1"/>
<circle cx="164.60" cy="687.70" r="2.5" fill="#6aa84f" stroke="#333" stroke-width="0.5"/>
<circle cx="164.60" cy="701.50" r="2.5" fill="#3c5a8c" stroke="#333" stroke-width="0.5"/>
<circle cx="160.00" cy="705.50" r="2.5" fill="#6d3577" stroke="#333" stroke-width="0.5"/>
<line x1="119.20" y1="630.80" x2="163.00" y2="630.80" stroke="#231f20" stroke-width="1" />
<line x1="119.20" y1="630.80" x2="119.20" y2="635.40" stroke="#231f20" stroke-width="1" />
<line x1="163.00" y1="630.80" x2="163.00" y2="649.00" stroke="#231f20" stroke-width="1" />
<text x="141.50" y="628.50" font-size="8" fill="#231f20" text-anchor="middle" stroke="#231f20" stroke-width="0.15" >*</text>
<line x1="115.00" y1="741.50" x2="176.00" y2="741.50" stroke="#231f20" stroke-width="1.3" />
<line x1="115.00" y1="739.10" x2="115.00" y2="743.90" stroke="#231f20" stroke-width="1.2" />
<line x1="176.00" y1="739.10" x2="176.00" y2="743.90" stroke="#231f20" stroke-width="1.2" />
<text x="145.50" y="752.50" font-size="8.4" fill="#231f20" text-anchor="middle" textLength="39.00" lengthAdjust="spacingAndGlyphs" stroke="#231f20" stroke-width="0.15" >CD40+IL-4</text>
<line x1="272.90" y1="627.50" x2="272.90" y2="715.60" stroke="#231f20" stroke-width="1.2" />
<line x1="272.30" y1="715.00" x2="400.00" y2="715.00" stroke="#231f20" stroke-width="1.2" />
<line x1="269.10" y1="708.70" x2="272.90" y2="708.70" stroke="#231f20" stroke-width="1" />
<text x="265.80" y="711.60" font-size="8.2" fill="#231f20" text-anchor="end" stroke="#231f20" stroke-width="0.14" >0</text>
<line x1="269.10" y1="682.47" x2="272.90" y2="682.47" stroke="#231f20" stroke-width="1" />
<text x="265.80" y="685.37" font-size="8.2" fill="#231f20" text-anchor="end" stroke="#231f20" stroke-width="0.14" >20</text>
<line x1="269.10" y1="656.23" x2="272.90" y2="656.23" stroke="#231f20" stroke-width="1" />
<text x="265.80" y="659.13" font-size="8.2" fill="#231f20" text-anchor="end" stroke="#231f20" stroke-width="0.14" >40</text>
<line x1="269.10" y1="630.00" x2="272.90" y2="630.00" stroke="#231f20" stroke-width="1" />
<text x="265.80" y="632.90" font-size="8.2" fill="#231f20" text-anchor="end" stroke="#231f20" stroke-width="0.14" >60</text>
<line x1="272.90" y1="708.70" x2="386.00" y2="708.70" stroke="#231f20" stroke-width="0.9" stroke-dasharray="0.9 1.5"/>
<line x1="294.00" y1="715.00" x2="294.00" y2="718.60" stroke="#231f20" stroke-width="1" />
<line x1="336.30" y1="715.00" x2="336.30" y2="718.60" stroke="#231f20" stroke-width="1" />
<line x1="379.00" y1="715.00" x2="379.00" y2="718.60" stroke="#231f20" stroke-width="1" />
<text x="294.00" y="730.40" font-size="9.2" fill="#231f20" text-anchor="middle" textLength="19.20" lengthAdjust="spacingAndGlyphs" stroke="#231f20" stroke-width="0.15" >Ctrol</text>
<text x="336.50" y="730.40" font-size="9.2" fill="#231f20" text-anchor="middle" textLength="7.50" lengthAdjust="spacingAndGlyphs" stroke="#231f20" stroke-width="0.15" >(-)</text>
<text x="379.50" y="730.40" font-size="9.2" fill="#231f20" text-anchor="middle" textLength="34.50" lengthAdjust="spacingAndGlyphs" stroke="#231f20" stroke-width="0.15" >ibrutinib</text>
<text x="248.60" y="722.20" font-size="9.6" fill="#231f20" textLength="102.30" lengthAdjust="spacingAndGlyphs" transform="rotate(-90 248.60 722.20)" stroke="#231f20" stroke-width="0.15" >% AID<tspan font-size="8" dy="-3">+</tspan><tspan dy="3"> leukemic cells</tspan></text>
<line x1="294.00" y1="705.40" x2="336.30" y2="643.00" stroke="#1a1a1a" stroke-width="1.15" stroke-dasharray="1.3 0.75"/>
<line x1="336.30" y1="643.00" x2="379.00" y2="664.00" stroke="#1a1a1a" stroke-width="1.15" stroke-dasharray="1.3 0.75"/>
<line x1="294.00" y1="706.00" x2="336.30" y2="646.00" stroke="#1a1a1a" stroke-width="1.15" stroke-dasharray="1.3 0.75"/>
<line x1="336.30" y1="646.00" x2="379.00" y2="684.60" stroke="#1a1a1a" stroke-width="1.15" stroke-dasharray="1.3 0.75"/>
<line x1="294.00" y1="706.00" x2="336.30" y2="647.50" stroke="#1a1a1a" stroke-width="1.15" stroke-dasharray="1.3 0.75"/>
<line x1="336.30" y1="647.50" x2="379.00" y2="700.00" stroke="#1a1a1a" stroke-width="1.15" stroke-dasharray="1.3 0.75"/>
<line x1="294.00" y1="706.50" x2="336.30" y2="651.00" stroke="#1a1a1a" stroke-width="1.15" stroke-dasharray="1.3 0.75"/>
<line x1="336.30" y1="651.00" x2="379.00" y2="698.00" stroke="#1a1a1a" stroke-width="1.15" stroke-dasharray="1.3 0.75"/>
<line x1="294.00" y1="708.70" x2="336.30" y2="665.40" stroke="#1a1a1a" stroke-width="1.15" stroke-dasharray="1.3 0.75"/>
<line x1="336.30" y1="665.40" x2="379.00" y2="690.00" stroke="#1a1a1a" stroke-width="1.15" stroke-dasharray="1.3 0.75"/>
<circle cx="294.00" cy="708.70" r="2.5" fill="#fff" stroke="#e8962e" stroke-width="1"/>
<circle cx="294.00" cy="706.50" r="2.6" fill="#6aa84f" stroke="#333" stroke-width="0.5"/>
<circle cx="294.00" cy="705.40" r="2.6" fill="#3c5a8c" stroke="#333" stroke-width="0.5"/>
<circle cx="336.30" cy="651.00" r="2.6" fill="#6aa84f" stroke="#333" stroke-width="0.5"/>
<circle cx="336.30" cy="647.50" r="2.6" fill="#6d3577" stroke="#333" stroke-width="0.5"/>
<circle cx="336.30" cy="646.00" r="2.6" fill="#a8263a" stroke="#333" stroke-width="0.5"/>
<circle cx="336.30" cy="643.00" r="2.6" fill="#3c5a8c" stroke="#333" stroke-width="0.5"/>
<circle cx="336.30" cy="665.40" r="2.5" fill="#fff" stroke="#e8962e" stroke-width="1"/>
<circle cx="379.00" cy="664.00" r="2.6" fill="#3c5a8c" stroke="#333" stroke-width="0.5"/>
<circle cx="379.00" cy="684.60" r="2.6" fill="#a8263a" stroke="#333" stroke-width="0.5"/>
<circle cx="379.00" cy="690.00" r="2.5" fill="#fff" stroke="#e8962e" stroke-width="1"/>
<circle cx="378.50" cy="698.00" r="2.6" fill="#6aa84f" stroke="#333" stroke-width="0.5"/>
<circle cx="378.50" cy="700.00" r="2.6" fill="#6d3577" stroke="#333" stroke-width="0.5"/>
<line x1="336.30" y1="633.80" x2="379.00" y2="633.80" stroke="#231f20" stroke-width="1" />
<line x1="336.30" y1="633.80" x2="336.30" y2="637.50" stroke="#231f20" stroke-width="1" />
<line x1="379.00" y1="633.80" x2="379.00" y2="644.00" stroke="#231f20" stroke-width="1" />
<text x="357.70" y="631.50" font-size="8" fill="#231f20" text-anchor="middle" stroke="#231f20" stroke-width="0.15" >**</text>
<text x="386.00" y="668.50" font-size="9.1" fill="#231f20" textLength="29.40" lengthAdjust="spacingAndGlyphs" stroke="#231f20" stroke-width="0.15" >CLL 422</text>
<text x="386.00" y="682.70" font-size="9.1" fill="#231f20" textLength="29.40" lengthAdjust="spacingAndGlyphs" stroke="#231f20" stroke-width="0.15" >CLL 456</text>
<text x="386.00" y="692.00" font-size="9.1" fill="#231f20" textLength="29.40" lengthAdjust="spacingAndGlyphs" stroke="#231f20" stroke-width="0.15" >CLL 252</text>
<text x="386.00" y="700.80" font-size="9.1" fill="#231f20" textLength="29.40" lengthAdjust="spacingAndGlyphs" stroke="#231f20" stroke-width="0.15" >CLL 279</text>
<text x="386.00" y="710.80" font-size="9.1" fill="#231f20" textLength="29.40" lengthAdjust="spacingAndGlyphs" stroke="#231f20" stroke-width="0.15" >CLL 457</text>
<line x1="331.50" y1="741.00" x2="393.50" y2="741.00" stroke="#231f20" stroke-width="1.3" />
<line x1="331.50" y1="738.60" x2="331.50" y2="743.40" stroke="#231f20" stroke-width="1.2" />
<line x1="393.50" y1="738.60" x2="393.50" y2="743.40" stroke="#231f20" stroke-width="1.2" />
<text x="362.70" y="752.30" font-size="8.4" fill="#231f20" text-anchor="middle" textLength="39.00" lengthAdjust="spacingAndGlyphs" stroke="#231f20" stroke-width="0.15" >CD40+IL-4</text>
<rect x="0" y="0" width="520" height="1" fill="#111"/>
<rect x="0" y="761" width="520" height="1" fill="#111"/>
<rect x="0" y="0" width="2" height="762" fill="#5c5c5c"/>
<rect x="518" y="0" width="2" height="762" fill="#5c5c5c"/>
</svg>
</body></html>
